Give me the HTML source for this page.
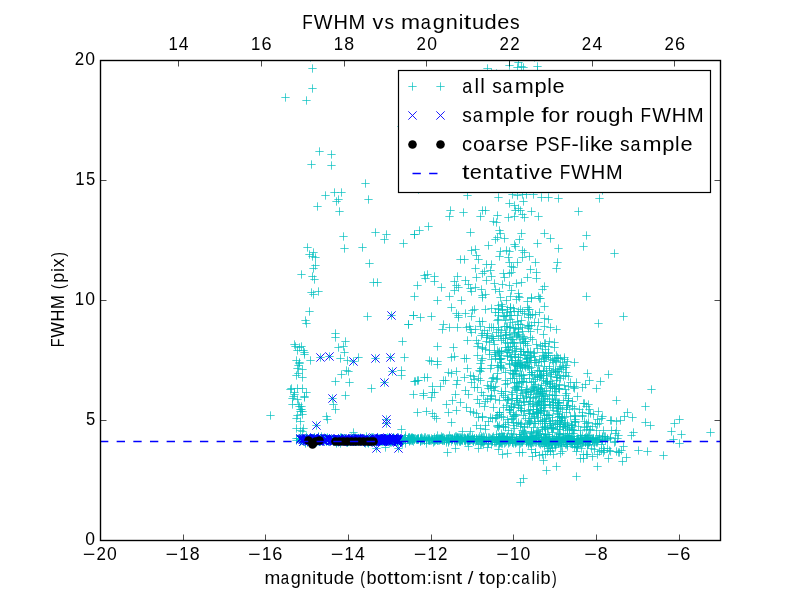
<!DOCTYPE html><html><head><meta charset="utf-8"><style>html,body{margin:0;padding:0;background:#fff;overflow:hidden;}svg{display:block;will-change:transform;}text{font-family:"Liberation Sans",sans-serif;fill:#000;white-space:pre;}</style></head><body>
<svg width="800" height="600" viewBox="0 0 800 600">
<rect x="0" y="0" width="800" height="600" fill="#fff"/>
<defs><clipPath id="ax"><rect x="100" y="60" width="620" height="480"/></clipPath>
<path id="p" d="M-4.17 0H4.17M0 -4.17V4.17" />
<path id="x" d="M-4.17 -4.17L4.17 4.17M-4.17 4.17L4.17 -4.17" />
</defs>
<g clip-path="url(#ax)">
<g stroke="#00bfbf" stroke-width="0.7" fill="none">
<use href="#p" x="312.5" y="68.5"/>
<use href="#p" x="312.5" y="88.5"/>
<use href="#p" x="285.5" y="97.5"/>
<use href="#p" x="306.5" y="100.5"/>
<use href="#p" x="319.5" y="151.5"/>
<use href="#p" x="331.5" y="154.5"/>
<use href="#p" x="311.5" y="164.5"/>
<use href="#p" x="331.5" y="165.5"/>
<use href="#p" x="310.5" y="57.5"/>
<use href="#p" x="401.5" y="126.5"/>
<use href="#p" x="365.5" y="183.5"/>
<use href="#p" x="325.5" y="195.5"/>
<use href="#p" x="334.5" y="192.5"/>
<use href="#p" x="341.5" y="192.5"/>
<use href="#p" x="338.5" y="199.5"/>
<use href="#p" x="336.5" y="201.5"/>
<use href="#p" x="368.5" y="199.5"/>
<use href="#p" x="317.5" y="206.5"/>
<use href="#p" x="339.5" y="211.5"/>
<use href="#p" x="375.5" y="232.5"/>
<use href="#p" x="386.5" y="234.5"/>
<use href="#p" x="384.5" y="239.5"/>
<use href="#p" x="343.5" y="236.5"/>
<use href="#p" x="344.5" y="248.5"/>
<use href="#p" x="362.5" y="247.5"/>
<use href="#p" x="403.5" y="243.5"/>
<use href="#p" x="414.5" y="234.5"/>
<use href="#p" x="307.5" y="247.5"/>
<use href="#p" x="313.5" y="252.5"/>
<use href="#p" x="309.5" y="254.5"/>
<use href="#p" x="312.5" y="256.5"/>
<use href="#p" x="315.5" y="257.5"/>
<use href="#p" x="315.5" y="265.5"/>
<use href="#p" x="313.5" y="268.5"/>
<use href="#p" x="301.5" y="274.5"/>
<use href="#p" x="312.5" y="276.5"/>
<use href="#p" x="314.5" y="279.5"/>
<use href="#p" x="369.5" y="263.5"/>
<use href="#p" x="373.5" y="282.5"/>
<use href="#p" x="377.5" y="282.5"/>
<use href="#p" x="417.5" y="285.5"/>
<use href="#p" x="414.5" y="296.5"/>
<use href="#p" x="311.5" y="292.5"/>
<use href="#p" x="318.5" y="291.5"/>
<use href="#p" x="313.5" y="294.5"/>
<use href="#p" x="309.5" y="311.5"/>
<use href="#p" x="305.5" y="320.5"/>
<use href="#p" x="306.5" y="323.5"/>
<use href="#p" x="367.5" y="316.5"/>
<use href="#p" x="391.5" y="315.5"/>
<use href="#p" x="413.5" y="315.5"/>
<use href="#p" x="408.5" y="324.5"/>
<use href="#p" x="335.5" y="333.5"/>
<use href="#p" x="335.5" y="337.5"/>
<use href="#p" x="345.5" y="341.5"/>
<use href="#p" x="338.5" y="347.5"/>
<use href="#p" x="343.5" y="346.5"/>
<use href="#p" x="344.5" y="352.5"/>
<use href="#p" x="340.5" y="358.5"/>
<use href="#p" x="347.5" y="360.5"/>
<use href="#p" x="346.5" y="370.5"/>
<use href="#p" x="348.5" y="371.5"/>
<use href="#p" x="341.5" y="374.5"/>
<use href="#p" x="358.5" y="357.5"/>
<use href="#p" x="353.5" y="361.5"/>
<use href="#p" x="402.5" y="341.5"/>
<use href="#p" x="375.5" y="358.5"/>
<use href="#p" x="390.5" y="357.5"/>
<use href="#p" x="404.5" y="357.5"/>
<use href="#p" x="392.5" y="371.5"/>
<use href="#p" x="401.5" y="370.5"/>
<use href="#p" x="401.5" y="375.5"/>
<use href="#p" x="384.5" y="382.5"/>
<use href="#p" x="371.5" y="388.5"/>
<use href="#p" x="335.5" y="381.5"/>
<use href="#p" x="349.5" y="382.5"/>
<use href="#p" x="345.5" y="395.5"/>
<use href="#p" x="332.5" y="398.5"/>
<use href="#p" x="333.5" y="404.5"/>
<use href="#p" x="335.5" y="409.5"/>
<use href="#p" x="326.5" y="416.5"/>
<use href="#p" x="414.5" y="381.5"/>
<use href="#p" x="417.5" y="380.5"/>
<use href="#p" x="413.5" y="394.5"/>
<use href="#p" x="417.5" y="412.5"/>
<use href="#p" x="270.5" y="415.5"/>
<use href="#p" x="295.5" y="346.5"/>
<use href="#p" x="301.5" y="346.5"/>
<use href="#p" x="297.5" y="350.5"/>
<use href="#p" x="304.5" y="352.5"/>
<use href="#p" x="304.5" y="354.5"/>
<use href="#p" x="310.5" y="360.5"/>
<use href="#p" x="299.5" y="362.5"/>
<use href="#p" x="298.5" y="365.5"/>
<use href="#p" x="297.5" y="368.5"/>
<use href="#p" x="298.5" y="373.5"/>
<use href="#p" x="302.5" y="377.5"/>
<use href="#p" x="291.5" y="388.5"/>
<use href="#p" x="297.5" y="388.5"/>
<use href="#p" x="302.5" y="388.5"/>
<use href="#p" x="306.5" y="392.5"/>
<use href="#p" x="294.5" y="394.5"/>
<use href="#p" x="304.5" y="396.5"/>
<use href="#p" x="297.5" y="399.5"/>
<use href="#p" x="292.5" y="404.5"/>
<use href="#p" x="301.5" y="406.5"/>
<use href="#p" x="300.5" y="409.5"/>
<use href="#p" x="302.5" y="411.5"/>
<use href="#p" x="297.5" y="415.5"/>
<use href="#p" x="320.5" y="357.5"/>
<use href="#p" x="329.5" y="356.5"/>
<use href="#p" x="487.5" y="68.5"/>
<use href="#p" x="491.5" y="72.5"/>
<use href="#p" x="496.5" y="73.5"/>
<use href="#p" x="509.5" y="65.5"/>
<use href="#p" x="518.5" y="62.5"/>
<use href="#p" x="517.5" y="67.5"/>
<use href="#p" x="521.5" y="66.5"/>
<use href="#p" x="523.5" y="67.5"/>
<use href="#p" x="537.5" y="66.5"/>
<use href="#p" x="537.5" y="70.5"/>
<use href="#p" x="534.5" y="57.5"/>
<use href="#p" x="418.5" y="189.5"/>
<use href="#p" x="467.5" y="195.5"/>
<use href="#p" x="498.5" y="197.5"/>
<use href="#p" x="512.5" y="194.5"/>
<use href="#p" x="517.5" y="195.5"/>
<use href="#p" x="522.5" y="194.5"/>
<use href="#p" x="526.5" y="194.5"/>
<use href="#p" x="533.5" y="194.5"/>
<use href="#p" x="541.5" y="197.5"/>
<use href="#p" x="548.5" y="197.5"/>
<use href="#p" x="558.5" y="198.5"/>
<use href="#p" x="509.5" y="203.5"/>
<use href="#p" x="514.5" y="205.5"/>
<use href="#p" x="523.5" y="201.5"/>
<use href="#p" x="518.5" y="208.5"/>
<use href="#p" x="520.5" y="210.5"/>
<use href="#p" x="515.5" y="210.5"/>
<use href="#p" x="522.5" y="214.5"/>
<use href="#p" x="524.5" y="217.5"/>
<use href="#p" x="514.5" y="216.5"/>
<use href="#p" x="508.5" y="217.5"/>
<use href="#p" x="531.5" y="211.5"/>
<use href="#p" x="538.5" y="216.5"/>
<use href="#p" x="450.5" y="210.5"/>
<use href="#p" x="449.5" y="216.5"/>
<use href="#p" x="463.5" y="212.5"/>
<use href="#p" x="482.5" y="210.5"/>
<use href="#p" x="485.5" y="210.5"/>
<use href="#p" x="480.5" y="216.5"/>
<use href="#p" x="497.5" y="215.5"/>
<use href="#p" x="493.5" y="221.5"/>
<use href="#p" x="496.5" y="222.5"/>
<use href="#p" x="428.5" y="226.5"/>
<use href="#p" x="419.5" y="230.5"/>
<use href="#p" x="414.5" y="234.5"/>
<use href="#p" x="470.5" y="232.5"/>
<use href="#p" x="499.5" y="230.5"/>
<use href="#p" x="500.5" y="233.5"/>
<use href="#p" x="504.5" y="238.5"/>
<use href="#p" x="497.5" y="237.5"/>
<use href="#p" x="495.5" y="239.5"/>
<use href="#p" x="521.5" y="233.5"/>
<use href="#p" x="519.5" y="239.5"/>
<use href="#p" x="544.5" y="233.5"/>
<use href="#p" x="550.5" y="238.5"/>
<use href="#p" x="537.5" y="243.5"/>
<use href="#p" x="558.5" y="248.5"/>
<use href="#p" x="488.5" y="245.5"/>
<use href="#p" x="514.5" y="244.5"/>
<use href="#p" x="515.5" y="246.5"/>
<use href="#p" x="471.5" y="250.5"/>
<use href="#p" x="475.5" y="249.5"/>
<use href="#p" x="476.5" y="255.5"/>
<use href="#p" x="478.5" y="259.5"/>
<use href="#p" x="460.5" y="259.5"/>
<use href="#p" x="464.5" y="259.5"/>
<use href="#p" x="500.5" y="251.5"/>
<use href="#p" x="506.5" y="250.5"/>
<use href="#p" x="509.5" y="251.5"/>
<use href="#p" x="499.5" y="256.5"/>
<use href="#p" x="508.5" y="257.5"/>
<use href="#p" x="522.5" y="250.5"/>
<use href="#p" x="524.5" y="252.5"/>
<use href="#p" x="522.5" y="257.5"/>
<use href="#p" x="529.5" y="256.5"/>
<use href="#p" x="535.5" y="262.5"/>
<use href="#p" x="557.5" y="262.5"/>
<use href="#p" x="556.5" y="268.5"/>
<use href="#p" x="475.5" y="268.5"/>
<use href="#p" x="486.5" y="264.5"/>
<use href="#p" x="491.5" y="264.5"/>
<use href="#p" x="484.5" y="271.5"/>
<use href="#p" x="490.5" y="270.5"/>
<use href="#p" x="482.5" y="273.5"/>
<use href="#p" x="491.5" y="276.5"/>
<use href="#p" x="509.5" y="262.5"/>
<use href="#p" x="511.5" y="266.5"/>
<use href="#p" x="513.5" y="267.5"/>
<use href="#p" x="511.5" y="272.5"/>
<use href="#p" x="509.5" y="273.5"/>
<use href="#p" x="517.5" y="262.5"/>
<use href="#p" x="503.5" y="273.5"/>
<use href="#p" x="504.5" y="277.5"/>
<use href="#p" x="530.5" y="269.5"/>
<use href="#p" x="536.5" y="272.5"/>
<use href="#p" x="527.5" y="277.5"/>
<use href="#p" x="536.5" y="278.5"/>
<use href="#p" x="521.5" y="282.5"/>
<use href="#p" x="544.5" y="286.5"/>
<use href="#p" x="542.5" y="289.5"/>
<use href="#p" x="424.5" y="275.5"/>
<use href="#p" x="427.5" y="274.5"/>
<use href="#p" x="425.5" y="278.5"/>
<use href="#p" x="434.5" y="276.5"/>
<use href="#p" x="434.5" y="281.5"/>
<use href="#p" x="441.5" y="287.5"/>
<use href="#p" x="457.5" y="276.5"/>
<use href="#p" x="454.5" y="281.5"/>
<use href="#p" x="456.5" y="285.5"/>
<use href="#p" x="458.5" y="287.5"/>
<use href="#p" x="454.5" y="290.5"/>
<use href="#p" x="465.5" y="280.5"/>
<use href="#p" x="476.5" y="277.5"/>
<use href="#p" x="468.5" y="284.5"/>
<use href="#p" x="470.5" y="288.5"/>
<use href="#p" x="475.5" y="287.5"/>
<use href="#p" x="471.5" y="291.5"/>
<use href="#p" x="481.5" y="289.5"/>
<use href="#p" x="482.5" y="295.5"/>
<use href="#p" x="485.5" y="294.5"/>
<use href="#p" x="449.5" y="296.5"/>
<use href="#p" x="486.5" y="280.5"/>
<use href="#p" x="494.5" y="283.5"/>
<use href="#p" x="495.5" y="289.5"/>
<use href="#p" x="499.5" y="291.5"/>
<use href="#p" x="502.5" y="284.5"/>
<use href="#p" x="509.5" y="285.5"/>
<use href="#p" x="511.5" y="290.5"/>
<use href="#p" x="516.5" y="283.5"/>
<use href="#p" x="518.5" y="293.5"/>
<use href="#p" x="519.5" y="297.5"/>
<use href="#p" x="510.5" y="296.5"/>
<use href="#p" x="500.5" y="297.5"/>
<use href="#p" x="531.5" y="297.5"/>
<use href="#p" x="538.5" y="296.5"/>
<use href="#p" x="540.5" y="298.5"/>
<use href="#p" x="599.5" y="198.5"/>
<use href="#p" x="602.5" y="190.5"/>
<use href="#p" x="578.5" y="211.5"/>
<use href="#p" x="586.5" y="235.5"/>
<use href="#p" x="583.5" y="246.5"/>
<use href="#p" x="614.5" y="253.5"/>
<use href="#p" x="586.5" y="296.5"/>
<use href="#p" x="437.5" y="300.5"/>
<use href="#p" x="461.5" y="300.5"/>
<use href="#p" x="451.5" y="307.5"/>
<use href="#p" x="474.5" y="309.5"/>
<use href="#p" x="472.5" y="310.5"/>
<use href="#p" x="456.5" y="313.5"/>
<use href="#p" x="458.5" y="315.5"/>
<use href="#p" x="458.5" y="317.5"/>
<use href="#p" x="465.5" y="313.5"/>
<use href="#p" x="471.5" y="316.5"/>
<use href="#p" x="413.5" y="315.5"/>
<use href="#p" x="420.5" y="317.5"/>
<use href="#p" x="431.5" y="316.5"/>
<use href="#p" x="408.5" y="324.5"/>
<use href="#p" x="443.5" y="324.5"/>
<use href="#p" x="442.5" y="329.5"/>
<use href="#p" x="449.5" y="327.5"/>
<use href="#p" x="457.5" y="327.5"/>
<use href="#p" x="466.5" y="327.5"/>
<use href="#p" x="469.5" y="326.5"/>
<use href="#p" x="470.5" y="329.5"/>
<use href="#p" x="475.5" y="329.5"/>
<use href="#p" x="471.5" y="332.5"/>
<use href="#p" x="479.5" y="321.5"/>
<use href="#p" x="467.5" y="340.5"/>
<use href="#p" x="476.5" y="340.5"/>
<use href="#p" x="477.5" y="346.5"/>
<use href="#p" x="478.5" y="343.5"/>
<use href="#p" x="437.5" y="346.5"/>
<use href="#p" x="453.5" y="347.5"/>
<use href="#p" x="451.5" y="357.5"/>
<use href="#p" x="454.5" y="356.5"/>
<use href="#p" x="464.5" y="358.5"/>
<use href="#p" x="466.5" y="358.5"/>
<use href="#p" x="477.5" y="355.5"/>
<use href="#p" x="429.5" y="360.5"/>
<use href="#p" x="431.5" y="361.5"/>
<use href="#p" x="437.5" y="361.5"/>
<use href="#p" x="437.5" y="364.5"/>
<use href="#p" x="467.5" y="368.5"/>
<use href="#p" x="448.5" y="372.5"/>
<use href="#p" x="451.5" y="373.5"/>
<use href="#p" x="456.5" y="371.5"/>
<use href="#p" x="464.5" y="377.5"/>
<use href="#p" x="470.5" y="375.5"/>
<use href="#p" x="473.5" y="376.5"/>
<use href="#p" x="474.5" y="379.5"/>
<use href="#p" x="478.5" y="378.5"/>
<use href="#p" x="471.5" y="382.5"/>
<use href="#p" x="474.5" y="387.5"/>
<use href="#p" x="477.5" y="387.5"/>
<use href="#p" x="479.5" y="370.5"/>
<use href="#p" x="415.5" y="381.5"/>
<use href="#p" x="418.5" y="380.5"/>
<use href="#p" x="424.5" y="377.5"/>
<use href="#p" x="427.5" y="377.5"/>
<use href="#p" x="443.5" y="380.5"/>
<use href="#p" x="445.5" y="380.5"/>
<use href="#p" x="457.5" y="380.5"/>
<use href="#p" x="456.5" y="384.5"/>
<use href="#p" x="432.5" y="386.5"/>
<use href="#p" x="440.5" y="386.5"/>
<use href="#p" x="423.5" y="393.5"/>
<use href="#p" x="423.5" y="395.5"/>
<use href="#p" x="432.5" y="392.5"/>
<use href="#p" x="434.5" y="392.5"/>
<use href="#p" x="431.5" y="397.5"/>
<use href="#p" x="455.5" y="394.5"/>
<use href="#p" x="465.5" y="390.5"/>
<use href="#p" x="468.5" y="394.5"/>
<use href="#p" x="452.5" y="400.5"/>
<use href="#p" x="446.5" y="404.5"/>
<use href="#p" x="460.5" y="402.5"/>
<use href="#p" x="466.5" y="407.5"/>
<use href="#p" x="456.5" y="410.5"/>
<use href="#p" x="448.5" y="412.5"/>
<use href="#p" x="426.5" y="411.5"/>
<use href="#p" x="432.5" y="413.5"/>
<use href="#p" x="470.5" y="411.5"/>
<use href="#p" x="473.5" y="412.5"/>
<use href="#p" x="476.5" y="413.5"/>
<use href="#p" x="477.5" y="399.5"/>
<use href="#p" x="479.5" y="403.5"/>
<use href="#p" x="434.5" y="416.5"/>
<use href="#p" x="436.5" y="418.5"/>
<use href="#p" x="451.5" y="422.5"/>
<use href="#p" x="478.5" y="417.5"/>
<use href="#p" x="401.5" y="429.5"/>
<use href="#p" x="476.5" y="425.5"/>
<use href="#p" x="462.5" y="431.5"/>
<use href="#p" x="470.5" y="431.5"/>
<use href="#p" x="447.5" y="452.5"/>
<use href="#p" x="455.5" y="448.5"/>
<use href="#p" x="478.5" y="448.5"/>
<use href="#p" x="468.5" y="446.5"/>
<use href="#p" x="482.5" y="297.5"/>
<use href="#p" x="506.5" y="300.5"/>
<use href="#p" x="516.5" y="299.5"/>
<use href="#p" x="518.5" y="296.5"/>
<use href="#p" x="531.5" y="298.5"/>
<use href="#p" x="539.5" y="298.5"/>
<use href="#p" x="527.5" y="301.5"/>
<use href="#p" x="501.5" y="304.5"/>
<use href="#p" x="498.5" y="305.5"/>
<use href="#p" x="544.5" y="306.5"/>
<use href="#p" x="485.5" y="309.5"/>
<use href="#p" x="491.5" y="308.5"/>
<use href="#p" x="498.5" y="308.5"/>
<use href="#p" x="498.5" y="312.5"/>
<use href="#p" x="498.5" y="315.5"/>
<use href="#p" x="502.5" y="306.5"/>
<use href="#p" x="507.5" y="309.5"/>
<use href="#p" x="510.5" y="311.5"/>
<use href="#p" x="514.5" y="311.5"/>
<use href="#p" x="518.5" y="311.5"/>
<use href="#p" x="522.5" y="311.5"/>
<use href="#p" x="528.5" y="309.5"/>
<use href="#p" x="528.5" y="314.5"/>
<use href="#p" x="530.5" y="315.5"/>
<use href="#p" x="539.5" y="312.5"/>
<use href="#p" x="524.5" y="313.5"/>
<use href="#p" x="504.5" y="316.5"/>
<use href="#p" x="517.5" y="315.5"/>
<use href="#p" x="544.5" y="318.5"/>
<use href="#p" x="548.5" y="319.5"/>
<use href="#p" x="482.5" y="321.5"/>
<use href="#p" x="505.5" y="320.5"/>
<use href="#p" x="510.5" y="319.5"/>
<use href="#p" x="521.5" y="320.5"/>
<use href="#p" x="534.5" y="322.5"/>
<use href="#p" x="538.5" y="322.5"/>
<use href="#p" x="489.5" y="327.5"/>
<use href="#p" x="493.5" y="327.5"/>
<use href="#p" x="501.5" y="330.5"/>
<use href="#p" x="506.5" y="326.5"/>
<use href="#p" x="509.5" y="327.5"/>
<use href="#p" x="513.5" y="328.5"/>
<use href="#p" x="518.5" y="328.5"/>
<use href="#p" x="522.5" y="327.5"/>
<use href="#p" x="528.5" y="326.5"/>
<use href="#p" x="531.5" y="325.5"/>
<use href="#p" x="537.5" y="329.5"/>
<use href="#p" x="544.5" y="326.5"/>
<use href="#p" x="550.5" y="327.5"/>
<use href="#p" x="556.5" y="329.5"/>
<use href="#p" x="482.5" y="333.5"/>
<use href="#p" x="487.5" y="333.5"/>
<use href="#p" x="496.5" y="332.5"/>
<use href="#p" x="498.5" y="336.5"/>
<use href="#p" x="505.5" y="332.5"/>
<use href="#p" x="509.5" y="334.5"/>
<use href="#p" x="514.5" y="332.5"/>
<use href="#p" x="518.5" y="334.5"/>
<use href="#p" x="522.5" y="331.5"/>
<use href="#p" x="510.5" y="337.5"/>
<use href="#p" x="524.5" y="338.5"/>
<use href="#p" x="530.5" y="337.5"/>
<use href="#p" x="543.5" y="334.5"/>
<use href="#p" x="486.5" y="341.5"/>
<use href="#p" x="489.5" y="342.5"/>
<use href="#p" x="494.5" y="344.5"/>
<use href="#p" x="482.5" y="347.5"/>
<use href="#p" x="485.5" y="349.5"/>
<use href="#p" x="505.5" y="347.5"/>
<use href="#p" x="507.5" y="343.5"/>
<use href="#p" x="513.5" y="342.5"/>
<use href="#p" x="520.5" y="342.5"/>
<use href="#p" x="525.5" y="341.5"/>
<use href="#p" x="527.5" y="345.5"/>
<use href="#p" x="536.5" y="344.5"/>
<use href="#p" x="540.5" y="345.5"/>
<use href="#p" x="545.5" y="343.5"/>
<use href="#p" x="554.5" y="342.5"/>
<use href="#p" x="554.5" y="347.5"/>
<use href="#p" x="545.5" y="349.5"/>
<use href="#p" x="501.5" y="351.5"/>
<use href="#p" x="507.5" y="352.5"/>
<use href="#p" x="515.5" y="351.5"/>
<use href="#p" x="521.5" y="351.5"/>
<use href="#p" x="527.5" y="352.5"/>
<use href="#p" x="534.5" y="352.5"/>
<use href="#p" x="542.5" y="352.5"/>
<use href="#p" x="548.5" y="352.5"/>
<use href="#p" x="495.5" y="354.5"/>
<use href="#p" x="512.5" y="339.5"/>
<use href="#p" x="516.5" y="336.5"/>
<use href="#p" x="520.5" y="324.5"/>
<use href="#p" x="512.5" y="322.5"/>
<use href="#p" x="503.5" y="338.5"/>
<use href="#p" x="493.5" y="338.5"/>
<use href="#p" x="623.5" y="316.5"/>
<use href="#p" x="598.5" y="323.5"/>
<use href="#p" x="574.5" y="362.5"/>
<use href="#p" x="587.5" y="373.5"/>
<use href="#p" x="608.5" y="374.5"/>
<use href="#p" x="600.5" y="381.5"/>
<use href="#p" x="596.5" y="388.5"/>
<use href="#p" x="651.5" y="389.5"/>
<use href="#p" x="616.5" y="400.5"/>
<use href="#p" x="645.5" y="406.5"/>
<use href="#p" x="627.5" y="412.5"/>
<use href="#p" x="632.5" y="417.5"/>
<use href="#p" x="645.5" y="422.5"/>
<use href="#p" x="650.5" y="425.5"/>
<use href="#p" x="610.5" y="420.5"/>
<use href="#p" x="598.5" y="411.5"/>
<use href="#p" x="549.5" y="341.5"/>
<use href="#p" x="544.5" y="343.5"/>
<use href="#p" x="542.5" y="346.5"/>
<use href="#p" x="548.5" y="355.5"/>
<use href="#p" x="550.5" y="359.5"/>
<use href="#p" x="560.5" y="366.5"/>
<use href="#p" x="561.5" y="369.5"/>
<use href="#p" x="566.5" y="372.5"/>
<use href="#p" x="563.5" y="376.5"/>
<use href="#p" x="555.5" y="369.5"/>
<use href="#p" x="589.5" y="380.5"/>
<use href="#p" x="585.5" y="384.5"/>
<use href="#p" x="576.5" y="382.5"/>
<use href="#p" x="570.5" y="382.5"/>
<use href="#p" x="574.5" y="388.5"/>
<use href="#p" x="582.5" y="387.5"/>
<use href="#p" x="577.5" y="396.5"/>
<use href="#p" x="566.5" y="393.5"/>
<use href="#p" x="586.5" y="406.5"/>
<use href="#p" x="583.5" y="403.5"/>
<use href="#p" x="593.5" y="414.5"/>
<use href="#p" x="602.5" y="416.5"/>
<use href="#p" x="616.5" y="421.5"/>
<use href="#p" x="595.5" y="423.5"/>
<use href="#p" x="624.5" y="416.5"/>
<use href="#p" x="620.5" y="420.5"/>
<use href="#p" x="616.5" y="430.5"/>
<use href="#p" x="615.5" y="433.5"/>
<use href="#p" x="633.5" y="432.5"/>
<use href="#p" x="631.5" y="435.5"/>
<use href="#p" x="611.5" y="430.5"/>
<use href="#p" x="610.5" y="437.5"/>
<use href="#p" x="623.5" y="446.5"/>
<use href="#p" x="621.5" y="450.5"/>
<use href="#p" x="638.5" y="450.5"/>
<use href="#p" x="647.5" y="451.5"/>
<use href="#p" x="592.5" y="456.5"/>
<use href="#p" x="580.5" y="458.5"/>
<use href="#p" x="576.5" y="476.5"/>
<use href="#p" x="611.5" y="420.5"/>
<use href="#p" x="610.5" y="451.5"/>
<use href="#p" x="601.5" y="418.5"/>
<use href="#p" x="603.5" y="430.5"/>
<use href="#p" x="602.5" y="436.5"/>
<use href="#p" x="601.5" y="450.5"/>
<use href="#p" x="607.5" y="448.5"/>
<use href="#p" x="591.5" y="448.5"/>
<use href="#p" x="520.5" y="482.5"/>
<use href="#p" x="523.5" y="478.5"/>
<use href="#p" x="546.5" y="470.5"/>
<use href="#p" x="556.5" y="466.5"/>
<use href="#p" x="532.5" y="456.5"/>
<use href="#p" x="543.5" y="460.5"/>
<use href="#p" x="679.5" y="419.5"/>
<use href="#p" x="674.5" y="423.5"/>
<use href="#p" x="671.5" y="431.5"/>
<use href="#p" x="681.5" y="434.5"/>
<use href="#p" x="710.5" y="432.5"/>
<use href="#p" x="673.5" y="439.5"/>
<use href="#p" x="679.5" y="443.5"/>
<use href="#p" x="610.5" y="438.5"/>
<use href="#p" x="615.5" y="441.5"/>
<use href="#p" x="619.5" y="452.5"/>
<use href="#p" x="603.5" y="448.5"/>
<use href="#p" x="663.5" y="455.5"/>
<use href="#p" x="539.5" y="455.5"/>
<use href="#p" x="545.5" y="454.5"/>
<use href="#p" x="583.5" y="458.5"/>
<use href="#p" x="498.5" y="449.5"/>
<use href="#p" x="487.5" y="447.5"/>
<use href="#p" x="376.5" y="448.5"/>
<use href="#p" x="385.5" y="447.5"/>
<use href="#p" x="398.5" y="448.5"/>
<use href="#p" x="296.5" y="418.5"/>
<use href="#p" x="300.5" y="421.5"/>
<use href="#p" x="296.5" y="428.5"/>
<use href="#p" x="303.5" y="428.5"/>
<use href="#p" x="300.5" y="430.5"/>
<use href="#p" x="302.5" y="431.5"/>
<use href="#p" x="302.5" y="414.5"/>
<use href="#p" x="316.5" y="425.5"/>
<use href="#p" x="327.5" y="419.5"/>
<use href="#p" x="386.5" y="419.5"/>
<use href="#p" x="386.5" y="423.5"/>
<use href="#p" x="353.5" y="432.5"/>
<use href="#p" x="293.5" y="396.5"/>
<use href="#p" x="304.5" y="397.5"/>
<use href="#p" x="294.5" y="344.5"/>
<use href="#p" x="299.5" y="347.5"/>
<use href="#p" x="303.5" y="350.5"/>
<use href="#p" x="296.5" y="360.5"/>
<use href="#p" x="299.5" y="363.5"/>
<use href="#p" x="302.5" y="369.5"/>
<use href="#p" x="296.5" y="375.5"/>
<use href="#p" x="299.5" y="406.5"/>
<use href="#p" x="301.5" y="409.5"/>
<use href="#p" x="300.5" y="411.5"/>
<use href="#p" x="298.5" y="404.5"/>
<use href="#p" x="294.5" y="392.5"/>
<use href="#p" x="290.5" y="389.5"/>
<use href="#p" x="292.5" y="398.5"/>
<use href="#p" x="626.5" y="457.5"/>
<use href="#p" x="622.5" y="461.5"/>
<use href="#p" x="608.5" y="458.5"/>
<use href="#p" x="597.5" y="466.5"/>
<use href="#p" x="480.5" y="363.5"/>
<use href="#p" x="482.5" y="358.5"/>
<use href="#p" x="481.5" y="360.5"/>
<use href="#p" x="491.5" y="359.5"/>
<use href="#p" x="495.5" y="356.5"/>
<use href="#p" x="495.5" y="358.5"/>
<use href="#p" x="499.5" y="355.5"/>
<use href="#p" x="499.5" y="359.5"/>
<use href="#p" x="501.5" y="362.5"/>
<use href="#p" x="501.5" y="358.5"/>
<use href="#p" x="500.5" y="358.5"/>
<use href="#p" x="509.5" y="364.5"/>
<use href="#p" x="507.5" y="355.5"/>
<use href="#p" x="509.5" y="363.5"/>
<use href="#p" x="507.5" y="356.5"/>
<use href="#p" x="500.5" y="359.5"/>
<use href="#p" x="515.5" y="362.5"/>
<use href="#p" x="512.5" y="360.5"/>
<use href="#p" x="517.5" y="363.5"/>
<use href="#p" x="518.5" y="357.5"/>
<use href="#p" x="518.5" y="357.5"/>
<use href="#p" x="518.5" y="360.5"/>
<use href="#p" x="511.5" y="360.5"/>
<use href="#p" x="515.5" y="364.5"/>
<use href="#p" x="510.5" y="356.5"/>
<use href="#p" x="519.5" y="363.5"/>
<use href="#p" x="511.5" y="357.5"/>
<use href="#p" x="515.5" y="356.5"/>
<use href="#p" x="520.5" y="362.5"/>
<use href="#p" x="520.5" y="364.5"/>
<use href="#p" x="529.5" y="362.5"/>
<use href="#p" x="527.5" y="358.5"/>
<use href="#p" x="526.5" y="362.5"/>
<use href="#p" x="524.5" y="355.5"/>
<use href="#p" x="526.5" y="358.5"/>
<use href="#p" x="526.5" y="359.5"/>
<use href="#p" x="529.5" y="357.5"/>
<use href="#p" x="527.5" y="361.5"/>
<use href="#p" x="525.5" y="355.5"/>
<use href="#p" x="521.5" y="364.5"/>
<use href="#p" x="531.5" y="357.5"/>
<use href="#p" x="535.5" y="360.5"/>
<use href="#p" x="530.5" y="355.5"/>
<use href="#p" x="534.5" y="356.5"/>
<use href="#p" x="536.5" y="362.5"/>
<use href="#p" x="530.5" y="360.5"/>
<use href="#p" x="534.5" y="362.5"/>
<use href="#p" x="539.5" y="359.5"/>
<use href="#p" x="548.5" y="355.5"/>
<use href="#p" x="543.5" y="358.5"/>
<use href="#p" x="541.5" y="361.5"/>
<use href="#p" x="545.5" y="357.5"/>
<use href="#p" x="544.5" y="361.5"/>
<use href="#p" x="543.5" y="355.5"/>
<use href="#p" x="544.5" y="356.5"/>
<use href="#p" x="546.5" y="357.5"/>
<use href="#p" x="558.5" y="358.5"/>
<use href="#p" x="552.5" y="360.5"/>
<use href="#p" x="556.5" y="361.5"/>
<use href="#p" x="557.5" y="357.5"/>
<use href="#p" x="554.5" y="358.5"/>
<use href="#p" x="555.5" y="360.5"/>
<use href="#p" x="556.5" y="355.5"/>
<use href="#p" x="553.5" y="362.5"/>
<use href="#p" x="567.5" y="361.5"/>
<use href="#p" x="564.5" y="359.5"/>
<use href="#p" x="562.5" y="362.5"/>
<use href="#p" x="564.5" y="357.5"/>
<use href="#p" x="560.5" y="358.5"/>
<use href="#p" x="480.5" y="371.5"/>
<use href="#p" x="481.5" y="368.5"/>
<use href="#p" x="481.5" y="368.5"/>
<use href="#p" x="497.5" y="373.5"/>
<use href="#p" x="490.5" y="368.5"/>
<use href="#p" x="497.5" y="365.5"/>
<use href="#p" x="491.5" y="365.5"/>
<use href="#p" x="498.5" y="367.5"/>
<use href="#p" x="500.5" y="366.5"/>
<use href="#p" x="505.5" y="372.5"/>
<use href="#p" x="503.5" y="368.5"/>
<use href="#p" x="500.5" y="365.5"/>
<use href="#p" x="501.5" y="367.5"/>
<use href="#p" x="513.5" y="374.5"/>
<use href="#p" x="512.5" y="373.5"/>
<use href="#p" x="510.5" y="370.5"/>
<use href="#p" x="515.5" y="371.5"/>
<use href="#p" x="514.5" y="370.5"/>
<use href="#p" x="517.5" y="366.5"/>
<use href="#p" x="515.5" y="370.5"/>
<use href="#p" x="517.5" y="366.5"/>
<use href="#p" x="514.5" y="365.5"/>
<use href="#p" x="516.5" y="373.5"/>
<use href="#p" x="513.5" y="373.5"/>
<use href="#p" x="516.5" y="365.5"/>
<use href="#p" x="520.5" y="368.5"/>
<use href="#p" x="528.5" y="366.5"/>
<use href="#p" x="525.5" y="365.5"/>
<use href="#p" x="521.5" y="374.5"/>
<use href="#p" x="520.5" y="366.5"/>
<use href="#p" x="529.5" y="368.5"/>
<use href="#p" x="522.5" y="365.5"/>
<use href="#p" x="524.5" y="365.5"/>
<use href="#p" x="522.5" y="367.5"/>
<use href="#p" x="527.5" y="366.5"/>
<use href="#p" x="525.5" y="367.5"/>
<use href="#p" x="529.5" y="374.5"/>
<use href="#p" x="539.5" y="370.5"/>
<use href="#p" x="539.5" y="371.5"/>
<use href="#p" x="531.5" y="372.5"/>
<use href="#p" x="538.5" y="365.5"/>
<use href="#p" x="531.5" y="372.5"/>
<use href="#p" x="537.5" y="370.5"/>
<use href="#p" x="531.5" y="367.5"/>
<use href="#p" x="532.5" y="374.5"/>
<use href="#p" x="543.5" y="371.5"/>
<use href="#p" x="546.5" y="370.5"/>
<use href="#p" x="546.5" y="373.5"/>
<use href="#p" x="549.5" y="366.5"/>
<use href="#p" x="540.5" y="374.5"/>
<use href="#p" x="549.5" y="368.5"/>
<use href="#p" x="543.5" y="371.5"/>
<use href="#p" x="544.5" y="366.5"/>
<use href="#p" x="553.5" y="370.5"/>
<use href="#p" x="551.5" y="372.5"/>
<use href="#p" x="559.5" y="368.5"/>
<use href="#p" x="555.5" y="371.5"/>
<use href="#p" x="557.5" y="371.5"/>
<use href="#p" x="555.5" y="372.5"/>
<use href="#p" x="550.5" y="374.5"/>
<use href="#p" x="558.5" y="371.5"/>
<use href="#p" x="566.5" y="365.5"/>
<use href="#p" x="563.5" y="367.5"/>
<use href="#p" x="565.5" y="367.5"/>
<use href="#p" x="480.5" y="380.5"/>
<use href="#p" x="497.5" y="378.5"/>
<use href="#p" x="491.5" y="381.5"/>
<use href="#p" x="493.5" y="377.5"/>
<use href="#p" x="492.5" y="378.5"/>
<use href="#p" x="496.5" y="379.5"/>
<use href="#p" x="507.5" y="383.5"/>
<use href="#p" x="505.5" y="384.5"/>
<use href="#p" x="505.5" y="380.5"/>
<use href="#p" x="519.5" y="382.5"/>
<use href="#p" x="519.5" y="376.5"/>
<use href="#p" x="514.5" y="382.5"/>
<use href="#p" x="517.5" y="383.5"/>
<use href="#p" x="512.5" y="378.5"/>
<use href="#p" x="514.5" y="378.5"/>
<use href="#p" x="510.5" y="378.5"/>
<use href="#p" x="516.5" y="382.5"/>
<use href="#p" x="526.5" y="382.5"/>
<use href="#p" x="521.5" y="375.5"/>
<use href="#p" x="521.5" y="381.5"/>
<use href="#p" x="529.5" y="378.5"/>
<use href="#p" x="523.5" y="381.5"/>
<use href="#p" x="523.5" y="375.5"/>
<use href="#p" x="522.5" y="381.5"/>
<use href="#p" x="524.5" y="378.5"/>
<use href="#p" x="531.5" y="382.5"/>
<use href="#p" x="533.5" y="381.5"/>
<use href="#p" x="535.5" y="384.5"/>
<use href="#p" x="537.5" y="376.5"/>
<use href="#p" x="534.5" y="375.5"/>
<use href="#p" x="537.5" y="377.5"/>
<use href="#p" x="539.5" y="377.5"/>
<use href="#p" x="535.5" y="379.5"/>
<use href="#p" x="545.5" y="383.5"/>
<use href="#p" x="543.5" y="375.5"/>
<use href="#p" x="541.5" y="375.5"/>
<use href="#p" x="547.5" y="381.5"/>
<use href="#p" x="547.5" y="382.5"/>
<use href="#p" x="541.5" y="375.5"/>
<use href="#p" x="546.5" y="375.5"/>
<use href="#p" x="543.5" y="380.5"/>
<use href="#p" x="546.5" y="381.5"/>
<use href="#p" x="549.5" y="384.5"/>
<use href="#p" x="543.5" y="378.5"/>
<use href="#p" x="540.5" y="376.5"/>
<use href="#p" x="556.5" y="377.5"/>
<use href="#p" x="550.5" y="381.5"/>
<use href="#p" x="556.5" y="380.5"/>
<use href="#p" x="551.5" y="376.5"/>
<use href="#p" x="552.5" y="383.5"/>
<use href="#p" x="559.5" y="375.5"/>
<use href="#p" x="559.5" y="384.5"/>
<use href="#p" x="557.5" y="377.5"/>
<use href="#p" x="568.5" y="376.5"/>
<use href="#p" x="560.5" y="378.5"/>
<use href="#p" x="565.5" y="375.5"/>
<use href="#p" x="481.5" y="392.5"/>
<use href="#p" x="487.5" y="385.5"/>
<use href="#p" x="488.5" y="388.5"/>
<use href="#p" x="493.5" y="387.5"/>
<use href="#p" x="491.5" y="388.5"/>
<use href="#p" x="490.5" y="386.5"/>
<use href="#p" x="494.5" y="390.5"/>
<use href="#p" x="495.5" y="386.5"/>
<use href="#p" x="501.5" y="393.5"/>
<use href="#p" x="501.5" y="391.5"/>
<use href="#p" x="505.5" y="391.5"/>
<use href="#p" x="512.5" y="392.5"/>
<use href="#p" x="515.5" y="388.5"/>
<use href="#p" x="514.5" y="387.5"/>
<use href="#p" x="511.5" y="394.5"/>
<use href="#p" x="516.5" y="386.5"/>
<use href="#p" x="518.5" y="386.5"/>
<use href="#p" x="516.5" y="390.5"/>
<use href="#p" x="517.5" y="389.5"/>
<use href="#p" x="527.5" y="389.5"/>
<use href="#p" x="521.5" y="387.5"/>
<use href="#p" x="521.5" y="390.5"/>
<use href="#p" x="528.5" y="392.5"/>
<use href="#p" x="526.5" y="389.5"/>
<use href="#p" x="522.5" y="393.5"/>
<use href="#p" x="526.5" y="391.5"/>
<use href="#p" x="525.5" y="392.5"/>
<use href="#p" x="532.5" y="388.5"/>
<use href="#p" x="533.5" y="387.5"/>
<use href="#p" x="538.5" y="392.5"/>
<use href="#p" x="536.5" y="389.5"/>
<use href="#p" x="534.5" y="386.5"/>
<use href="#p" x="534.5" y="390.5"/>
<use href="#p" x="533.5" y="390.5"/>
<use href="#p" x="539.5" y="394.5"/>
<use href="#p" x="530.5" y="394.5"/>
<use href="#p" x="537.5" y="393.5"/>
<use href="#p" x="538.5" y="387.5"/>
<use href="#p" x="531.5" y="391.5"/>
<use href="#p" x="541.5" y="385.5"/>
<use href="#p" x="549.5" y="394.5"/>
<use href="#p" x="542.5" y="393.5"/>
<use href="#p" x="542.5" y="393.5"/>
<use href="#p" x="540.5" y="391.5"/>
<use href="#p" x="542.5" y="391.5"/>
<use href="#p" x="540.5" y="391.5"/>
<use href="#p" x="540.5" y="389.5"/>
<use href="#p" x="540.5" y="388.5"/>
<use href="#p" x="541.5" y="388.5"/>
<use href="#p" x="544.5" y="391.5"/>
<use href="#p" x="546.5" y="390.5"/>
<use href="#p" x="554.5" y="386.5"/>
<use href="#p" x="556.5" y="388.5"/>
<use href="#p" x="559.5" y="388.5"/>
<use href="#p" x="550.5" y="388.5"/>
<use href="#p" x="559.5" y="389.5"/>
<use href="#p" x="558.5" y="388.5"/>
<use href="#p" x="556.5" y="385.5"/>
<use href="#p" x="552.5" y="386.5"/>
<use href="#p" x="554.5" y="388.5"/>
<use href="#p" x="555.5" y="391.5"/>
<use href="#p" x="552.5" y="387.5"/>
<use href="#p" x="550.5" y="386.5"/>
<use href="#p" x="568.5" y="386.5"/>
<use href="#p" x="564.5" y="385.5"/>
<use href="#p" x="565.5" y="389.5"/>
<use href="#p" x="573.5" y="387.5"/>
<use href="#p" x="574.5" y="386.5"/>
<use href="#p" x="483.5" y="395.5"/>
<use href="#p" x="487.5" y="399.5"/>
<use href="#p" x="485.5" y="401.5"/>
<use href="#p" x="495.5" y="399.5"/>
<use href="#p" x="491.5" y="395.5"/>
<use href="#p" x="491.5" y="396.5"/>
<use href="#p" x="499.5" y="400.5"/>
<use href="#p" x="490.5" y="398.5"/>
<use href="#p" x="508.5" y="399.5"/>
<use href="#p" x="505.5" y="397.5"/>
<use href="#p" x="503.5" y="395.5"/>
<use href="#p" x="507.5" y="399.5"/>
<use href="#p" x="507.5" y="400.5"/>
<use href="#p" x="512.5" y="398.5"/>
<use href="#p" x="517.5" y="398.5"/>
<use href="#p" x="519.5" y="402.5"/>
<use href="#p" x="516.5" y="400.5"/>
<use href="#p" x="516.5" y="398.5"/>
<use href="#p" x="511.5" y="403.5"/>
<use href="#p" x="514.5" y="404.5"/>
<use href="#p" x="517.5" y="400.5"/>
<use href="#p" x="526.5" y="397.5"/>
<use href="#p" x="523.5" y="398.5"/>
<use href="#p" x="528.5" y="404.5"/>
<use href="#p" x="520.5" y="395.5"/>
<use href="#p" x="523.5" y="401.5"/>
<use href="#p" x="524.5" y="402.5"/>
<use href="#p" x="529.5" y="401.5"/>
<use href="#p" x="526.5" y="396.5"/>
<use href="#p" x="536.5" y="396.5"/>
<use href="#p" x="530.5" y="401.5"/>
<use href="#p" x="539.5" y="401.5"/>
<use href="#p" x="532.5" y="403.5"/>
<use href="#p" x="533.5" y="398.5"/>
<use href="#p" x="538.5" y="402.5"/>
<use href="#p" x="539.5" y="403.5"/>
<use href="#p" x="530.5" y="397.5"/>
<use href="#p" x="535.5" y="397.5"/>
<use href="#p" x="538.5" y="402.5"/>
<use href="#p" x="537.5" y="404.5"/>
<use href="#p" x="537.5" y="404.5"/>
<use href="#p" x="541.5" y="400.5"/>
<use href="#p" x="549.5" y="401.5"/>
<use href="#p" x="543.5" y="395.5"/>
<use href="#p" x="541.5" y="396.5"/>
<use href="#p" x="547.5" y="398.5"/>
<use href="#p" x="544.5" y="404.5"/>
<use href="#p" x="543.5" y="401.5"/>
<use href="#p" x="543.5" y="398.5"/>
<use href="#p" x="544.5" y="399.5"/>
<use href="#p" x="541.5" y="401.5"/>
<use href="#p" x="545.5" y="396.5"/>
<use href="#p" x="549.5" y="404.5"/>
<use href="#p" x="553.5" y="402.5"/>
<use href="#p" x="555.5" y="400.5"/>
<use href="#p" x="557.5" y="402.5"/>
<use href="#p" x="552.5" y="399.5"/>
<use href="#p" x="558.5" y="403.5"/>
<use href="#p" x="558.5" y="402.5"/>
<use href="#p" x="556.5" y="395.5"/>
<use href="#p" x="553.5" y="402.5"/>
<use href="#p" x="552.5" y="395.5"/>
<use href="#p" x="555.5" y="402.5"/>
<use href="#p" x="559.5" y="402.5"/>
<use href="#p" x="554.5" y="395.5"/>
<use href="#p" x="568.5" y="400.5"/>
<use href="#p" x="565.5" y="395.5"/>
<use href="#p" x="563.5" y="400.5"/>
<use href="#p" x="568.5" y="398.5"/>
<use href="#p" x="568.5" y="400.5"/>
<use href="#p" x="572.5" y="401.5"/>
<use href="#p" x="584.5" y="403.5"/>
<use href="#p" x="588.5" y="404.5"/>
<use href="#p" x="484.5" y="406.5"/>
<use href="#p" x="499.5" y="414.5"/>
<use href="#p" x="493.5" y="407.5"/>
<use href="#p" x="499.5" y="412.5"/>
<use href="#p" x="499.5" y="412.5"/>
<use href="#p" x="499.5" y="412.5"/>
<use href="#p" x="509.5" y="409.5"/>
<use href="#p" x="509.5" y="409.5"/>
<use href="#p" x="509.5" y="410.5"/>
<use href="#p" x="506.5" y="405.5"/>
<use href="#p" x="503.5" y="407.5"/>
<use href="#p" x="513.5" y="407.5"/>
<use href="#p" x="511.5" y="407.5"/>
<use href="#p" x="518.5" y="407.5"/>
<use href="#p" x="516.5" y="414.5"/>
<use href="#p" x="510.5" y="412.5"/>
<use href="#p" x="511.5" y="406.5"/>
<use href="#p" x="513.5" y="414.5"/>
<use href="#p" x="518.5" y="405.5"/>
<use href="#p" x="520.5" y="408.5"/>
<use href="#p" x="529.5" y="413.5"/>
<use href="#p" x="521.5" y="410.5"/>
<use href="#p" x="524.5" y="411.5"/>
<use href="#p" x="528.5" y="410.5"/>
<use href="#p" x="529.5" y="413.5"/>
<use href="#p" x="521.5" y="405.5"/>
<use href="#p" x="521.5" y="410.5"/>
<use href="#p" x="538.5" y="412.5"/>
<use href="#p" x="536.5" y="411.5"/>
<use href="#p" x="536.5" y="409.5"/>
<use href="#p" x="536.5" y="413.5"/>
<use href="#p" x="538.5" y="412.5"/>
<use href="#p" x="536.5" y="405.5"/>
<use href="#p" x="533.5" y="409.5"/>
<use href="#p" x="533.5" y="406.5"/>
<use href="#p" x="533.5" y="413.5"/>
<use href="#p" x="532.5" y="414.5"/>
<use href="#p" x="530.5" y="409.5"/>
<use href="#p" x="537.5" y="412.5"/>
<use href="#p" x="541.5" y="405.5"/>
<use href="#p" x="545.5" y="405.5"/>
<use href="#p" x="543.5" y="407.5"/>
<use href="#p" x="541.5" y="408.5"/>
<use href="#p" x="544.5" y="410.5"/>
<use href="#p" x="543.5" y="405.5"/>
<use href="#p" x="543.5" y="411.5"/>
<use href="#p" x="540.5" y="410.5"/>
<use href="#p" x="540.5" y="413.5"/>
<use href="#p" x="541.5" y="410.5"/>
<use href="#p" x="540.5" y="410.5"/>
<use href="#p" x="547.5" y="414.5"/>
<use href="#p" x="558.5" y="405.5"/>
<use href="#p" x="558.5" y="405.5"/>
<use href="#p" x="558.5" y="414.5"/>
<use href="#p" x="557.5" y="411.5"/>
<use href="#p" x="557.5" y="405.5"/>
<use href="#p" x="558.5" y="405.5"/>
<use href="#p" x="552.5" y="407.5"/>
<use href="#p" x="556.5" y="408.5"/>
<use href="#p" x="553.5" y="410.5"/>
<use href="#p" x="557.5" y="413.5"/>
<use href="#p" x="558.5" y="407.5"/>
<use href="#p" x="550.5" y="405.5"/>
<use href="#p" x="567.5" y="405.5"/>
<use href="#p" x="567.5" y="405.5"/>
<use href="#p" x="566.5" y="407.5"/>
<use href="#p" x="566.5" y="412.5"/>
<use href="#p" x="566.5" y="405.5"/>
<use href="#p" x="560.5" y="408.5"/>
<use href="#p" x="569.5" y="409.5"/>
<use href="#p" x="562.5" y="409.5"/>
<use href="#p" x="572.5" y="406.5"/>
<use href="#p" x="579.5" y="409.5"/>
<use href="#p" x="574.5" y="408.5"/>
<use href="#p" x="588.5" y="413.5"/>
<use href="#p" x="582.5" y="412.5"/>
<use href="#p" x="589.5" y="409.5"/>
<use href="#p" x="590.5" y="413.5"/>
<use href="#p" x="482.5" y="417.5"/>
<use href="#p" x="482.5" y="416.5"/>
<use href="#p" x="488.5" y="421.5"/>
<use href="#p" x="496.5" y="417.5"/>
<use href="#p" x="490.5" y="417.5"/>
<use href="#p" x="497.5" y="415.5"/>
<use href="#p" x="495.5" y="418.5"/>
<use href="#p" x="492.5" y="418.5"/>
<use href="#p" x="501.5" y="416.5"/>
<use href="#p" x="508.5" y="422.5"/>
<use href="#p" x="503.5" y="417.5"/>
<use href="#p" x="505.5" y="424.5"/>
<use href="#p" x="507.5" y="419.5"/>
<use href="#p" x="513.5" y="422.5"/>
<use href="#p" x="515.5" y="415.5"/>
<use href="#p" x="516.5" y="423.5"/>
<use href="#p" x="514.5" y="416.5"/>
<use href="#p" x="513.5" y="416.5"/>
<use href="#p" x="518.5" y="422.5"/>
<use href="#p" x="512.5" y="418.5"/>
<use href="#p" x="511.5" y="419.5"/>
<use href="#p" x="527.5" y="424.5"/>
<use href="#p" x="520.5" y="424.5"/>
<use href="#p" x="529.5" y="423.5"/>
<use href="#p" x="521.5" y="423.5"/>
<use href="#p" x="529.5" y="422.5"/>
<use href="#p" x="525.5" y="418.5"/>
<use href="#p" x="528.5" y="420.5"/>
<use href="#p" x="523.5" y="415.5"/>
<use href="#p" x="537.5" y="417.5"/>
<use href="#p" x="531.5" y="418.5"/>
<use href="#p" x="534.5" y="423.5"/>
<use href="#p" x="534.5" y="416.5"/>
<use href="#p" x="538.5" y="421.5"/>
<use href="#p" x="535.5" y="423.5"/>
<use href="#p" x="534.5" y="418.5"/>
<use href="#p" x="530.5" y="421.5"/>
<use href="#p" x="549.5" y="415.5"/>
<use href="#p" x="544.5" y="419.5"/>
<use href="#p" x="544.5" y="415.5"/>
<use href="#p" x="548.5" y="415.5"/>
<use href="#p" x="546.5" y="418.5"/>
<use href="#p" x="544.5" y="423.5"/>
<use href="#p" x="542.5" y="420.5"/>
<use href="#p" x="542.5" y="421.5"/>
<use href="#p" x="545.5" y="421.5"/>
<use href="#p" x="540.5" y="421.5"/>
<use href="#p" x="546.5" y="415.5"/>
<use href="#p" x="549.5" y="423.5"/>
<use href="#p" x="557.5" y="420.5"/>
<use href="#p" x="559.5" y="416.5"/>
<use href="#p" x="557.5" y="424.5"/>
<use href="#p" x="550.5" y="421.5"/>
<use href="#p" x="559.5" y="416.5"/>
<use href="#p" x="555.5" y="423.5"/>
<use href="#p" x="552.5" y="417.5"/>
<use href="#p" x="557.5" y="422.5"/>
<use href="#p" x="559.5" y="421.5"/>
<use href="#p" x="550.5" y="423.5"/>
<use href="#p" x="552.5" y="420.5"/>
<use href="#p" x="557.5" y="424.5"/>
<use href="#p" x="561.5" y="420.5"/>
<use href="#p" x="565.5" y="422.5"/>
<use href="#p" x="561.5" y="420.5"/>
<use href="#p" x="560.5" y="424.5"/>
<use href="#p" x="560.5" y="420.5"/>
<use href="#p" x="561.5" y="417.5"/>
<use href="#p" x="564.5" y="417.5"/>
<use href="#p" x="562.5" y="418.5"/>
<use href="#p" x="564.5" y="424.5"/>
<use href="#p" x="562.5" y="416.5"/>
<use href="#p" x="560.5" y="424.5"/>
<use href="#p" x="567.5" y="423.5"/>
<use href="#p" x="574.5" y="421.5"/>
<use href="#p" x="575.5" y="422.5"/>
<use href="#p" x="571.5" y="424.5"/>
<use href="#p" x="575.5" y="421.5"/>
<use href="#p" x="575.5" y="419.5"/>
<use href="#p" x="570.5" y="416.5"/>
<use href="#p" x="574.5" y="415.5"/>
<use href="#p" x="575.5" y="416.5"/>
<use href="#p" x="584.5" y="421.5"/>
<use href="#p" x="582.5" y="416.5"/>
<use href="#p" x="586.5" y="423.5"/>
<use href="#p" x="582.5" y="415.5"/>
<use href="#p" x="588.5" y="422.5"/>
<use href="#p" x="597.5" y="419.5"/>
<use href="#p" x="599.5" y="423.5"/>
<use href="#p" x="597.5" y="424.5"/>
<use href="#p" x="485.5" y="425.5"/>
<use href="#p" x="485.5" y="429.5"/>
<use href="#p" x="480.5" y="428.5"/>
<use href="#p" x="496.5" y="434.5"/>
<use href="#p" x="497.5" y="426.5"/>
<use href="#p" x="497.5" y="425.5"/>
<use href="#p" x="498.5" y="427.5"/>
<use href="#p" x="499.5" y="425.5"/>
<use href="#p" x="501.5" y="433.5"/>
<use href="#p" x="508.5" y="430.5"/>
<use href="#p" x="505.5" y="427.5"/>
<use href="#p" x="503.5" y="426.5"/>
<use href="#p" x="503.5" y="426.5"/>
<use href="#p" x="514.5" y="428.5"/>
<use href="#p" x="513.5" y="434.5"/>
<use href="#p" x="519.5" y="434.5"/>
<use href="#p" x="513.5" y="425.5"/>
<use href="#p" x="511.5" y="433.5"/>
<use href="#p" x="521.5" y="434.5"/>
<use href="#p" x="522.5" y="430.5"/>
<use href="#p" x="524.5" y="426.5"/>
<use href="#p" x="523.5" y="432.5"/>
<use href="#p" x="525.5" y="433.5"/>
<use href="#p" x="520.5" y="426.5"/>
<use href="#p" x="524.5" y="431.5"/>
<use href="#p" x="524.5" y="427.5"/>
<use href="#p" x="538.5" y="431.5"/>
<use href="#p" x="531.5" y="432.5"/>
<use href="#p" x="536.5" y="432.5"/>
<use href="#p" x="537.5" y="430.5"/>
<use href="#p" x="533.5" y="433.5"/>
<use href="#p" x="539.5" y="434.5"/>
<use href="#p" x="533.5" y="427.5"/>
<use href="#p" x="531.5" y="431.5"/>
<use href="#p" x="542.5" y="429.5"/>
<use href="#p" x="545.5" y="429.5"/>
<use href="#p" x="545.5" y="428.5"/>
<use href="#p" x="545.5" y="434.5"/>
<use href="#p" x="547.5" y="434.5"/>
<use href="#p" x="544.5" y="426.5"/>
<use href="#p" x="542.5" y="427.5"/>
<use href="#p" x="547.5" y="427.5"/>
<use href="#p" x="545.5" y="434.5"/>
<use href="#p" x="544.5" y="427.5"/>
<use href="#p" x="548.5" y="434.5"/>
<use href="#p" x="540.5" y="433.5"/>
<use href="#p" x="552.5" y="428.5"/>
<use href="#p" x="551.5" y="427.5"/>
<use href="#p" x="557.5" y="429.5"/>
<use href="#p" x="553.5" y="428.5"/>
<use href="#p" x="559.5" y="434.5"/>
<use href="#p" x="553.5" y="427.5"/>
<use href="#p" x="552.5" y="432.5"/>
<use href="#p" x="559.5" y="426.5"/>
<use href="#p" x="551.5" y="428.5"/>
<use href="#p" x="558.5" y="433.5"/>
<use href="#p" x="559.5" y="429.5"/>
<use href="#p" x="550.5" y="425.5"/>
<use href="#p" x="563.5" y="426.5"/>
<use href="#p" x="562.5" y="426.5"/>
<use href="#p" x="569.5" y="429.5"/>
<use href="#p" x="565.5" y="426.5"/>
<use href="#p" x="565.5" y="427.5"/>
<use href="#p" x="569.5" y="433.5"/>
<use href="#p" x="567.5" y="430.5"/>
<use href="#p" x="567.5" y="425.5"/>
<use href="#p" x="563.5" y="433.5"/>
<use href="#p" x="567.5" y="428.5"/>
<use href="#p" x="563.5" y="426.5"/>
<use href="#p" x="560.5" y="434.5"/>
<use href="#p" x="578.5" y="426.5"/>
<use href="#p" x="574.5" y="430.5"/>
<use href="#p" x="571.5" y="427.5"/>
<use href="#p" x="571.5" y="425.5"/>
<use href="#p" x="573.5" y="433.5"/>
<use href="#p" x="572.5" y="429.5"/>
<use href="#p" x="573.5" y="430.5"/>
<use href="#p" x="572.5" y="425.5"/>
<use href="#p" x="589.5" y="430.5"/>
<use href="#p" x="584.5" y="427.5"/>
<use href="#p" x="587.5" y="426.5"/>
<use href="#p" x="586.5" y="429.5"/>
<use href="#p" x="580.5" y="430.5"/>
<use href="#p" x="590.5" y="429.5"/>
<use href="#p" x="592.5" y="426.5"/>
<use href="#p" x="596.5" y="430.5"/>
<use href="#p" x="495.5" y="312.5"/>
<use href="#p" x="498.5" y="309.5"/>
<use href="#p" x="507.5" y="312.5"/>
<use href="#p" x="502.5" y="309.5"/>
<use href="#p" x="502.5" y="310.5"/>
<use href="#p" x="510.5" y="307.5"/>
<use href="#p" x="510.5" y="307.5"/>
<use href="#p" x="513.5" y="308.5"/>
<use href="#p" x="527.5" y="307.5"/>
<use href="#p" x="529.5" y="309.5"/>
<use href="#p" x="520.5" y="309.5"/>
<use href="#p" x="532.5" y="314.5"/>
<use href="#p" x="535.5" y="314.5"/>
<use href="#p" x="497.5" y="320.5"/>
<use href="#p" x="498.5" y="319.5"/>
<use href="#p" x="509.5" y="315.5"/>
<use href="#p" x="506.5" y="315.5"/>
<use href="#p" x="503.5" y="316.5"/>
<use href="#p" x="511.5" y="315.5"/>
<use href="#p" x="517.5" y="321.5"/>
<use href="#p" x="518.5" y="324.5"/>
<use href="#p" x="528.5" y="317.5"/>
<use href="#p" x="484.5" y="330.5"/>
<use href="#p" x="480.5" y="326.5"/>
<use href="#p" x="498.5" y="327.5"/>
<use href="#p" x="491.5" y="327.5"/>
<use href="#p" x="498.5" y="329.5"/>
<use href="#p" x="504.5" y="326.5"/>
<use href="#p" x="507.5" y="326.5"/>
<use href="#p" x="506.5" y="334.5"/>
<use href="#p" x="518.5" y="329.5"/>
<use href="#p" x="510.5" y="327.5"/>
<use href="#p" x="518.5" y="332.5"/>
<use href="#p" x="515.5" y="327.5"/>
<use href="#p" x="514.5" y="333.5"/>
<use href="#p" x="529.5" y="325.5"/>
<use href="#p" x="527.5" y="325.5"/>
<use href="#p" x="528.5" y="328.5"/>
<use href="#p" x="530.5" y="331.5"/>
<use href="#p" x="481.5" y="335.5"/>
<use href="#p" x="486.5" y="337.5"/>
<use href="#p" x="487.5" y="335.5"/>
<use href="#p" x="493.5" y="340.5"/>
<use href="#p" x="492.5" y="336.5"/>
<use href="#p" x="491.5" y="338.5"/>
<use href="#p" x="505.5" y="335.5"/>
<use href="#p" x="505.5" y="338.5"/>
<use href="#p" x="500.5" y="335.5"/>
<use href="#p" x="505.5" y="342.5"/>
<use href="#p" x="501.5" y="340.5"/>
<use href="#p" x="514.5" y="343.5"/>
<use href="#p" x="511.5" y="339.5"/>
<use href="#p" x="519.5" y="337.5"/>
<use href="#p" x="517.5" y="335.5"/>
<use href="#p" x="512.5" y="342.5"/>
<use href="#p" x="522.5" y="339.5"/>
<use href="#p" x="523.5" y="336.5"/>
<use href="#p" x="523.5" y="343.5"/>
<use href="#p" x="525.5" y="343.5"/>
<use href="#p" x="525.5" y="341.5"/>
<use href="#p" x="532.5" y="339.5"/>
<use href="#p" x="489.5" y="354.5"/>
<use href="#p" x="489.5" y="350.5"/>
<use href="#p" x="482.5" y="348.5"/>
<use href="#p" x="499.5" y="353.5"/>
<use href="#p" x="497.5" y="350.5"/>
<use href="#p" x="494.5" y="352.5"/>
<use href="#p" x="498.5" y="352.5"/>
<use href="#p" x="499.5" y="351.5"/>
<use href="#p" x="506.5" y="350.5"/>
<use href="#p" x="508.5" y="349.5"/>
<use href="#p" x="508.5" y="347.5"/>
<use href="#p" x="509.5" y="352.5"/>
<use href="#p" x="501.5" y="351.5"/>
<use href="#p" x="510.5" y="346.5"/>
<use href="#p" x="514.5" y="354.5"/>
<use href="#p" x="512.5" y="350.5"/>
<use href="#p" x="514.5" y="346.5"/>
<use href="#p" x="516.5" y="348.5"/>
<use href="#p" x="528.5" y="352.5"/>
<use href="#p" x="520.5" y="349.5"/>
<use href="#p" x="523.5" y="351.5"/>
<use href="#p" x="523.5" y="351.5"/>
<use href="#p" x="520.5" y="354.5"/>
<use href="#p" x="533.5" y="353.5"/>
<use href="#p" x="537.5" y="348.5"/>
<use href="#p" x="530.5" y="351.5"/>
<use href="#p" x="548.5" y="346.5"/>
<use href="#p" x="548.5" y="353.5"/>
<use href="#p" x="506.5" y="437.5"/>
<use href="#p" x="504.5" y="440.5"/>
<use href="#p" x="503.5" y="436.5"/>
<use href="#p" x="502.5" y="443.5"/>
<use href="#p" x="507.5" y="436.5"/>
<use href="#p" x="518.5" y="441.5"/>
<use href="#p" x="519.5" y="440.5"/>
<use href="#p" x="514.5" y="439.5"/>
<use href="#p" x="515.5" y="441.5"/>
<use href="#p" x="519.5" y="436.5"/>
<use href="#p" x="528.5" y="441.5"/>
<use href="#p" x="523.5" y="440.5"/>
<use href="#p" x="520.5" y="436.5"/>
<use href="#p" x="520.5" y="443.5"/>
<use href="#p" x="521.5" y="438.5"/>
<use href="#p" x="536.5" y="435.5"/>
<use href="#p" x="530.5" y="436.5"/>
<use href="#p" x="535.5" y="438.5"/>
<use href="#p" x="530.5" y="437.5"/>
<use href="#p" x="532.5" y="442.5"/>
<use href="#p" x="537.5" y="435.5"/>
<use href="#p" x="538.5" y="436.5"/>
<use href="#p" x="533.5" y="439.5"/>
<use href="#p" x="541.5" y="442.5"/>
<use href="#p" x="546.5" y="442.5"/>
<use href="#p" x="549.5" y="443.5"/>
<use href="#p" x="543.5" y="441.5"/>
<use href="#p" x="546.5" y="437.5"/>
<use href="#p" x="547.5" y="444.5"/>
<use href="#p" x="545.5" y="442.5"/>
<use href="#p" x="542.5" y="443.5"/>
<use href="#p" x="553.5" y="440.5"/>
<use href="#p" x="556.5" y="439.5"/>
<use href="#p" x="558.5" y="442.5"/>
<use href="#p" x="555.5" y="443.5"/>
<use href="#p" x="554.5" y="438.5"/>
<use href="#p" x="559.5" y="438.5"/>
<use href="#p" x="551.5" y="443.5"/>
<use href="#p" x="556.5" y="438.5"/>
<use href="#p" x="566.5" y="439.5"/>
<use href="#p" x="565.5" y="444.5"/>
<use href="#p" x="565.5" y="436.5"/>
<use href="#p" x="564.5" y="438.5"/>
<use href="#p" x="569.5" y="439.5"/>
<use href="#p" x="564.5" y="442.5"/>
<use href="#p" x="567.5" y="435.5"/>
<use href="#p" x="566.5" y="444.5"/>
<use href="#p" x="572.5" y="444.5"/>
<use href="#p" x="570.5" y="439.5"/>
<use href="#p" x="571.5" y="440.5"/>
<use href="#p" x="574.5" y="443.5"/>
<use href="#p" x="570.5" y="439.5"/>
<use href="#p" x="572.5" y="436.5"/>
<use href="#p" x="578.5" y="441.5"/>
<use href="#p" x="573.5" y="440.5"/>
<use href="#p" x="580.5" y="438.5"/>
<use href="#p" x="580.5" y="435.5"/>
<use href="#p" x="588.5" y="442.5"/>
<use href="#p" x="582.5" y="435.5"/>
<use href="#p" x="588.5" y="435.5"/>
<use href="#p" x="582.5" y="443.5"/>
<use href="#p" x="585.5" y="439.5"/>
<use href="#p" x="587.5" y="444.5"/>
<use href="#p" x="599.5" y="435.5"/>
<use href="#p" x="595.5" y="441.5"/>
<use href="#p" x="598.5" y="439.5"/>
<use href="#p" x="596.5" y="437.5"/>
<use href="#p" x="597.5" y="440.5"/>
<use href="#p" x="605.5" y="436.5"/>
<use href="#p" x="607.5" y="439.5"/>
<use href="#p" x="601.5" y="444.5"/>
<use href="#p" x="604.5" y="436.5"/>
<use href="#p" x="602.5" y="437.5"/>
<use href="#p" x="618.5" y="435.5"/>
<use href="#p" x="617.5" y="438.5"/>
<use href="#p" x="614.5" y="442.5"/>
<use href="#p" x="502.5" y="454.5"/>
<use href="#p" x="507.5" y="453.5"/>
<use href="#p" x="519.5" y="452.5"/>
<use href="#p" x="522.5" y="452.5"/>
<use href="#p" x="535.5" y="452.5"/>
<use href="#p" x="531.5" y="449.5"/>
<use href="#p" x="535.5" y="452.5"/>
<use href="#p" x="542.5" y="454.5"/>
<use href="#p" x="544.5" y="446.5"/>
<use href="#p" x="548.5" y="448.5"/>
<use href="#p" x="549.5" y="445.5"/>
<use href="#p" x="547.5" y="451.5"/>
<use href="#p" x="550.5" y="450.5"/>
<use href="#p" x="555.5" y="447.5"/>
<use href="#p" x="550.5" y="451.5"/>
<use href="#p" x="553.5" y="454.5"/>
<use href="#p" x="552.5" y="448.5"/>
<use href="#p" x="561.5" y="446.5"/>
<use href="#p" x="560.5" y="453.5"/>
<use href="#p" x="567.5" y="446.5"/>
<use href="#p" x="562.5" y="451.5"/>
<use href="#p" x="560.5" y="445.5"/>
<use href="#p" x="577.5" y="447.5"/>
<use href="#p" x="577.5" y="446.5"/>
<use href="#p" x="576.5" y="451.5"/>
<use href="#p" x="576.5" y="446.5"/>
<use href="#p" x="574.5" y="447.5"/>
<use href="#p" x="583.5" y="454.5"/>
<use href="#p" x="581.5" y="448.5"/>
<use href="#p" x="587.5" y="445.5"/>
<use href="#p" x="587.5" y="454.5"/>
<use href="#p" x="586.5" y="454.5"/>
<use href="#p" x="597.5" y="454.5"/>
<use href="#p" x="594.5" y="449.5"/>
<use href="#p" x="599.5" y="451.5"/>
<use href="#p" x="603.5" y="452.5"/>
<use href="#p" x="609.5" y="450.5"/>
<use href="#p" x="604.5" y="450.5"/>
<use href="#p" x="618.5" y="452.5"/>
<use href="#p" x="616.5" y="451.5"/>
<use href="#p" x="299.5" y="438.5"/>
<use href="#p" x="296.5" y="440.5"/>
<use href="#p" x="298.5" y="438.5"/>
<use href="#p" x="296.5" y="438.5"/>
<use href="#p" x="328.5" y="441.5"/>
<use href="#p" x="359.5" y="440.5"/>
<use href="#p" x="336.5" y="439.5"/>
<use href="#p" x="348.5" y="438.5"/>
<use href="#p" x="320.5" y="438.5"/>
<use href="#p" x="322.5" y="439.5"/>
<use href="#p" x="344.5" y="438.5"/>
<use href="#p" x="323.5" y="438.5"/>
<use href="#p" x="358.5" y="439.5"/>
<use href="#p" x="312.5" y="438.5"/>
<use href="#p" x="389.5" y="438.5"/>
<use href="#p" x="350.5" y="441.5"/>
<use href="#p" x="352.5" y="439.5"/>
<use href="#p" x="371.5" y="440.5"/>
<use href="#p" x="369.5" y="441.5"/>
<use href="#p" x="387.5" y="439.5"/>
<use href="#p" x="351.5" y="440.5"/>
<use href="#p" x="330.5" y="439.5"/>
<use href="#p" x="379.5" y="438.5"/>
<use href="#p" x="391.5" y="440.5"/>
<use href="#p" x="322.5" y="440.5"/>
<use href="#p" x="363.5" y="440.5"/>
<use href="#p" x="397.5" y="440.5"/>
<use href="#p" x="344.5" y="441.5"/>
<use href="#p" x="350.5" y="441.5"/>
<use href="#p" x="360.5" y="437.5"/>
<use href="#p" x="348.5" y="441.5"/>
<use href="#p" x="331.5" y="439.5"/>
<use href="#p" x="349.5" y="439.5"/>
<use href="#p" x="376.5" y="439.5"/>
<use href="#p" x="338.5" y="442.5"/>
<use href="#p" x="391.5" y="440.5"/>
<use href="#p" x="393.5" y="440.5"/>
<use href="#p" x="400.5" y="439.5"/>
<use href="#p" x="392.5" y="440.5"/>
<use href="#p" x="369.5" y="439.5"/>
<use href="#p" x="320.5" y="441.5"/>
<use href="#p" x="305.5" y="439.5"/>
<use href="#p" x="360.5" y="439.5"/>
<use href="#p" x="342.5" y="438.5"/>
<use href="#p" x="307.5" y="439.5"/>
<use href="#p" x="359.5" y="439.5"/>
<use href="#p" x="310.5" y="437.5"/>
<use href="#p" x="325.5" y="440.5"/>
<use href="#p" x="377.5" y="439.5"/>
<use href="#p" x="340.5" y="443.5"/>
<use href="#p" x="370.5" y="438.5"/>
<use href="#p" x="309.5" y="440.5"/>
<use href="#p" x="363.5" y="441.5"/>
<use href="#p" x="341.5" y="440.5"/>
<use href="#p" x="330.5" y="439.5"/>
<use href="#p" x="390.5" y="441.5"/>
<use href="#p" x="381.5" y="439.5"/>
<use href="#p" x="364.5" y="442.5"/>
<use href="#p" x="374.5" y="439.5"/>
<use href="#p" x="314.5" y="439.5"/>
<use href="#p" x="381.5" y="439.5"/>
<use href="#p" x="305.5" y="442.5"/>
<use href="#p" x="359.5" y="439.5"/>
<use href="#p" x="301.5" y="440.5"/>
<use href="#p" x="324.5" y="437.5"/>
<use href="#p" x="303.5" y="439.5"/>
<use href="#p" x="352.5" y="438.5"/>
<use href="#p" x="372.5" y="441.5"/>
<use href="#p" x="308.5" y="440.5"/>
<use href="#p" x="368.5" y="443.5"/>
<use href="#p" x="317.5" y="438.5"/>
<use href="#p" x="315.5" y="439.5"/>
<use href="#p" x="341.5" y="437.5"/>
<use href="#p" x="390.5" y="439.5"/>
<use href="#p" x="328.5" y="441.5"/>
<use href="#p" x="366.5" y="439.5"/>
<use href="#p" x="340.5" y="437.5"/>
<use href="#p" x="376.5" y="440.5"/>
<use href="#p" x="307.5" y="441.5"/>
<use href="#p" x="332.5" y="440.5"/>
<use href="#p" x="345.5" y="441.5"/>
<use href="#p" x="323.5" y="439.5"/>
<use href="#p" x="344.5" y="439.5"/>
<use href="#p" x="354.5" y="441.5"/>
<use href="#p" x="311.5" y="440.5"/>
<use href="#p" x="377.5" y="437.5"/>
<use href="#p" x="345.5" y="441.5"/>
<use href="#p" x="389.5" y="442.5"/>
<use href="#p" x="391.5" y="439.5"/>
<use href="#p" x="330.5" y="439.5"/>
<use href="#p" x="371.5" y="441.5"/>
<use href="#p" x="339.5" y="440.5"/>
<use href="#p" x="382.5" y="441.5"/>
<use href="#p" x="365.5" y="440.5"/>
<use href="#p" x="300.5" y="439.5"/>
<use href="#p" x="347.5" y="442.5"/>
<use href="#p" x="376.5" y="440.5"/>
<use href="#p" x="316.5" y="442.5"/>
<use href="#p" x="364.5" y="440.5"/>
<use href="#p" x="328.5" y="439.5"/>
<use href="#p" x="334.5" y="440.5"/>
<use href="#p" x="342.5" y="439.5"/>
<use href="#p" x="402.5" y="443.5"/>
<use href="#p" x="307.5" y="442.5"/>
<use href="#p" x="355.5" y="437.5"/>
<use href="#p" x="329.5" y="440.5"/>
<use href="#p" x="348.5" y="440.5"/>
<use href="#p" x="392.5" y="439.5"/>
<use href="#p" x="309.5" y="440.5"/>
<use href="#p" x="355.5" y="441.5"/>
<use href="#p" x="331.5" y="439.5"/>
<use href="#p" x="331.5" y="440.5"/>
<use href="#p" x="300.5" y="441.5"/>
<use href="#p" x="357.5" y="441.5"/>
<use href="#p" x="347.5" y="442.5"/>
<use href="#p" x="310.5" y="440.5"/>
<use href="#p" x="371.5" y="437.5"/>
<use href="#p" x="310.5" y="441.5"/>
<use href="#p" x="336.5" y="443.5"/>
<use href="#p" x="363.5" y="440.5"/>
<use href="#p" x="334.5" y="441.5"/>
<use href="#p" x="336.5" y="442.5"/>
<use href="#p" x="312.5" y="438.5"/>
<use href="#p" x="384.5" y="440.5"/>
<use href="#p" x="306.5" y="440.5"/>
<use href="#p" x="306.5" y="436.5"/>
<use href="#p" x="370.5" y="439.5"/>
<use href="#p" x="389.5" y="437.5"/>
<use href="#p" x="348.5" y="438.5"/>
<use href="#p" x="345.5" y="438.5"/>
<use href="#p" x="313.5" y="438.5"/>
<use href="#p" x="335.5" y="439.5"/>
<use href="#p" x="375.5" y="441.5"/>
<use href="#p" x="338.5" y="438.5"/>
<use href="#p" x="352.5" y="439.5"/>
<use href="#p" x="384.5" y="438.5"/>
<use href="#p" x="368.5" y="439.5"/>
<use href="#p" x="306.5" y="437.5"/>
<use href="#p" x="366.5" y="441.5"/>
<use href="#p" x="386.5" y="438.5"/>
<use href="#p" x="314.5" y="437.5"/>
<use href="#p" x="397.5" y="440.5"/>
<use href="#p" x="308.5" y="440.5"/>
<use href="#p" x="326.5" y="441.5"/>
<use href="#p" x="366.5" y="436.5"/>
<use href="#p" x="369.5" y="441.5"/>
<use href="#p" x="371.5" y="442.5"/>
<use href="#p" x="302.5" y="438.5"/>
<use href="#p" x="343.5" y="438.5"/>
<use href="#p" x="393.5" y="437.5"/>
<use href="#p" x="321.5" y="436.5"/>
<use href="#p" x="319.5" y="440.5"/>
<use href="#p" x="304.5" y="439.5"/>
<use href="#p" x="303.5" y="440.5"/>
<use href="#p" x="340.5" y="438.5"/>
<use href="#p" x="388.5" y="438.5"/>
<use href="#p" x="329.5" y="439.5"/>
<use href="#p" x="305.5" y="443.5"/>
<use href="#p" x="361.5" y="441.5"/>
<use href="#p" x="311.5" y="442.5"/>
<use href="#p" x="386.5" y="439.5"/>
<use href="#p" x="365.5" y="443.5"/>
<use href="#p" x="379.5" y="440.5"/>
<use href="#p" x="367.5" y="442.5"/>
<use href="#p" x="341.5" y="438.5"/>
<use href="#p" x="386.5" y="439.5"/>
<use href="#p" x="402.5" y="440.5"/>
<use href="#p" x="310.5" y="438.5"/>
<use href="#p" x="365.5" y="441.5"/>
<use href="#p" x="313.5" y="439.5"/>
<use href="#p" x="319.5" y="441.5"/>
<use href="#p" x="320.5" y="441.5"/>
<use href="#p" x="391.5" y="442.5"/>
<use href="#p" x="354.5" y="437.5"/>
<use href="#p" x="346.5" y="439.5"/>
<use href="#p" x="358.5" y="438.5"/>
<use href="#p" x="306.5" y="438.5"/>
<use href="#p" x="322.5" y="439.5"/>
<use href="#p" x="318.5" y="436.5"/>
<use href="#p" x="402.5" y="441.5"/>
<use href="#p" x="373.5" y="439.5"/>
<use href="#p" x="395.5" y="441.5"/>
<use href="#p" x="327.5" y="437.5"/>
<use href="#p" x="329.5" y="438.5"/>
<use href="#p" x="395.5" y="439.5"/>
<use href="#p" x="372.5" y="437.5"/>
<use href="#p" x="391.5" y="439.5"/>
<use href="#p" x="388.5" y="441.5"/>
<use href="#p" x="300.5" y="440.5"/>
<use href="#p" x="343.5" y="439.5"/>
<use href="#p" x="357.5" y="438.5"/>
<use href="#p" x="316.5" y="440.5"/>
<use href="#p" x="326.5" y="441.5"/>
<use href="#p" x="373.5" y="440.5"/>
<use href="#p" x="386.5" y="438.5"/>
<use href="#p" x="336.5" y="441.5"/>
<use href="#p" x="351.5" y="437.5"/>
<use href="#p" x="379.5" y="440.5"/>
<use href="#p" x="392.5" y="438.5"/>
<use href="#p" x="335.5" y="441.5"/>
<use href="#p" x="402.5" y="439.5"/>
<use href="#p" x="301.5" y="439.5"/>
<use href="#p" x="380.5" y="438.5"/>
<use href="#p" x="398.5" y="437.5"/>
<use href="#p" x="364.5" y="440.5"/>
<use href="#p" x="341.5" y="438.5"/>
<use href="#p" x="363.5" y="439.5"/>
<use href="#p" x="390.5" y="442.5"/>
<use href="#p" x="346.5" y="442.5"/>
<use href="#p" x="326.5" y="438.5"/>
<use href="#p" x="405.5" y="438.5"/>
<use href="#p" x="424.5" y="440.5"/>
<use href="#p" x="408.5" y="438.5"/>
<use href="#p" x="417.5" y="438.5"/>
<use href="#p" x="407.5" y="439.5"/>
<use href="#p" x="410.5" y="438.5"/>
<use href="#p" x="436.5" y="438.5"/>
<use href="#p" x="405.5" y="440.5"/>
<use href="#p" x="421.5" y="438.5"/>
<use href="#p" x="420.5" y="438.5"/>
<use href="#p" x="409.5" y="437.5"/>
<use href="#p" x="413.5" y="438.5"/>
<use href="#p" x="418.5" y="438.5"/>
<use href="#p" x="427.5" y="438.5"/>
<use href="#p" x="418.5" y="439.5"/>
<use href="#p" x="405.5" y="440.5"/>
<use href="#p" x="405.5" y="438.5"/>
<use href="#p" x="432.5" y="439.5"/>
<use href="#p" x="404.5" y="438.5"/>
<use href="#p" x="424.5" y="440.5"/>
<use href="#p" x="425.5" y="437.5"/>
<use href="#p" x="411.5" y="438.5"/>
<use href="#p" x="421.5" y="440.5"/>
<use href="#p" x="423.5" y="439.5"/>
<use href="#p" x="438.5" y="440.5"/>
<use href="#p" x="412.5" y="440.5"/>
<use href="#p" x="418.5" y="439.5"/>
<use href="#p" x="407.5" y="439.5"/>
<use href="#p" x="417.5" y="439.5"/>
<use href="#p" x="429.5" y="440.5"/>
<use href="#p" x="412.5" y="439.5"/>
<use href="#p" x="405.5" y="438.5"/>
<use href="#p" x="409.5" y="437.5"/>
<use href="#p" x="429.5" y="438.5"/>
<use href="#p" x="408.5" y="437.5"/>
<use href="#p" x="426.5" y="440.5"/>
<use href="#p" x="431.5" y="440.5"/>
<use href="#p" x="409.5" y="440.5"/>
<use href="#p" x="404.5" y="438.5"/>
<use href="#p" x="426.5" y="439.5"/>
<use href="#p" x="420.5" y="439.5"/>
<use href="#p" x="420.5" y="440.5"/>
<use href="#p" x="403.5" y="439.5"/>
<use href="#p" x="430.5" y="440.5"/>
<use href="#p" x="439.5" y="440.5"/>
<use href="#p" x="416.5" y="439.5"/>
<use href="#p" x="434.5" y="440.5"/>
<use href="#p" x="412.5" y="437.5"/>
<use href="#p" x="439.5" y="438.5"/>
<use href="#p" x="411.5" y="438.5"/>
<use href="#p" x="437.5" y="440.5"/>
<use href="#p" x="437.5" y="440.5"/>
<use href="#p" x="432.5" y="439.5"/>
<use href="#p" x="434.5" y="441.5"/>
<use href="#p" x="439.5" y="439.5"/>
<use href="#p" x="411.5" y="437.5"/>
<use href="#p" x="410.5" y="439.5"/>
<use href="#p" x="409.5" y="440.5"/>
<use href="#p" x="436.5" y="439.5"/>
<use href="#p" x="412.5" y="438.5"/>
<use href="#p" x="408.5" y="439.5"/>
<use href="#p" x="414.5" y="439.5"/>
<use href="#p" x="429.5" y="440.5"/>
<use href="#p" x="432.5" y="439.5"/>
<use href="#p" x="411.5" y="438.5"/>
<use href="#p" x="436.5" y="438.5"/>
<use href="#p" x="421.5" y="437.5"/>
<use href="#p" x="422.5" y="440.5"/>
<use href="#p" x="417.5" y="439.5"/>
<use href="#p" x="414.5" y="439.5"/>
<use href="#p" x="403.5" y="440.5"/>
<use href="#p" x="434.5" y="437.5"/>
<use href="#p" x="420.5" y="438.5"/>
<use href="#p" x="408.5" y="439.5"/>
<use href="#p" x="413.5" y="438.5"/>
<use href="#p" x="410.5" y="440.5"/>
<use href="#p" x="422.5" y="438.5"/>
<use href="#p" x="424.5" y="439.5"/>
<use href="#p" x="436.5" y="439.5"/>
<use href="#p" x="412.5" y="438.5"/>
<use href="#p" x="429.5" y="439.5"/>
<use href="#p" x="413.5" y="441.5"/>
<use href="#p" x="410.5" y="439.5"/>
<use href="#p" x="413.5" y="438.5"/>
<use href="#p" x="428.5" y="438.5"/>
<use href="#p" x="436.5" y="439.5"/>
<use href="#p" x="435.5" y="440.5"/>
<use href="#p" x="416.5" y="439.5"/>
<use href="#p" x="424.5" y="437.5"/>
<use href="#p" x="412.5" y="440.5"/>
<use href="#p" x="433.5" y="439.5"/>
<use href="#p" x="431.5" y="438.5"/>
<use href="#p" x="428.5" y="439.5"/>
<use href="#p" x="408.5" y="438.5"/>
<use href="#p" x="420.5" y="441.5"/>
<use href="#p" x="414.5" y="438.5"/>
<use href="#p" x="426.5" y="443.5"/>
<use href="#p" x="424.5" y="440.5"/>
<use href="#p" x="417.5" y="439.5"/>
<use href="#p" x="411.5" y="440.5"/>
<use href="#p" x="418.5" y="438.5"/>
<use href="#p" x="428.5" y="440.5"/>
<use href="#p" x="403.5" y="440.5"/>
<use href="#p" x="409.5" y="441.5"/>
<use href="#p" x="433.5" y="442.5"/>
<use href="#p" x="415.5" y="438.5"/>
<use href="#p" x="434.5" y="439.5"/>
<use href="#p" x="437.5" y="435.5"/>
<use href="#p" x="405.5" y="437.5"/>
<use href="#p" x="438.5" y="438.5"/>
<use href="#p" x="405.5" y="443.5"/>
<use href="#p" x="405.5" y="435.5"/>
<use href="#p" x="435.5" y="439.5"/>
<use href="#p" x="420.5" y="441.5"/>
<use href="#p" x="447.5" y="439.5"/>
<use href="#p" x="465.5" y="440.5"/>
<use href="#p" x="467.5" y="439.5"/>
<use href="#p" x="450.5" y="438.5"/>
<use href="#p" x="470.5" y="440.5"/>
<use href="#p" x="459.5" y="441.5"/>
<use href="#p" x="441.5" y="438.5"/>
<use href="#p" x="464.5" y="440.5"/>
<use href="#p" x="461.5" y="439.5"/>
<use href="#p" x="456.5" y="438.5"/>
<use href="#p" x="472.5" y="438.5"/>
<use href="#p" x="462.5" y="438.5"/>
<use href="#p" x="460.5" y="438.5"/>
<use href="#p" x="461.5" y="440.5"/>
<use href="#p" x="452.5" y="439.5"/>
<use href="#p" x="449.5" y="440.5"/>
<use href="#p" x="457.5" y="441.5"/>
<use href="#p" x="446.5" y="439.5"/>
<use href="#p" x="451.5" y="438.5"/>
<use href="#p" x="448.5" y="438.5"/>
<use href="#p" x="440.5" y="438.5"/>
<use href="#p" x="468.5" y="439.5"/>
<use href="#p" x="444.5" y="440.5"/>
<use href="#p" x="463.5" y="438.5"/>
<use href="#p" x="479.5" y="439.5"/>
<use href="#p" x="455.5" y="441.5"/>
<use href="#p" x="460.5" y="441.5"/>
<use href="#p" x="458.5" y="438.5"/>
<use href="#p" x="457.5" y="438.5"/>
<use href="#p" x="441.5" y="439.5"/>
<use href="#p" x="468.5" y="437.5"/>
<use href="#p" x="442.5" y="438.5"/>
<use href="#p" x="461.5" y="439.5"/>
<use href="#p" x="467.5" y="439.5"/>
<use href="#p" x="467.5" y="441.5"/>
<use href="#p" x="442.5" y="440.5"/>
<use href="#p" x="450.5" y="438.5"/>
<use href="#p" x="475.5" y="441.5"/>
<use href="#p" x="474.5" y="439.5"/>
<use href="#p" x="468.5" y="440.5"/>
<use href="#p" x="476.5" y="438.5"/>
<use href="#p" x="441.5" y="439.5"/>
<use href="#p" x="465.5" y="438.5"/>
<use href="#p" x="479.5" y="436.5"/>
<use href="#p" x="467.5" y="439.5"/>
<use href="#p" x="473.5" y="441.5"/>
<use href="#p" x="466.5" y="439.5"/>
<use href="#p" x="469.5" y="440.5"/>
<use href="#p" x="460.5" y="439.5"/>
<use href="#p" x="464.5" y="437.5"/>
<use href="#p" x="460.5" y="441.5"/>
<use href="#p" x="442.5" y="438.5"/>
<use href="#p" x="467.5" y="437.5"/>
<use href="#p" x="459.5" y="437.5"/>
<use href="#p" x="468.5" y="440.5"/>
<use href="#p" x="468.5" y="439.5"/>
<use href="#p" x="467.5" y="438.5"/>
<use href="#p" x="474.5" y="439.5"/>
<use href="#p" x="455.5" y="436.5"/>
<use href="#p" x="470.5" y="439.5"/>
<use href="#p" x="460.5" y="437.5"/>
<use href="#p" x="459.5" y="440.5"/>
<use href="#p" x="452.5" y="439.5"/>
<use href="#p" x="446.5" y="440.5"/>
<use href="#p" x="454.5" y="437.5"/>
<use href="#p" x="456.5" y="439.5"/>
<use href="#p" x="457.5" y="437.5"/>
<use href="#p" x="478.5" y="438.5"/>
<use href="#p" x="454.5" y="439.5"/>
<use href="#p" x="454.5" y="440.5"/>
<use href="#p" x="462.5" y="440.5"/>
<use href="#p" x="468.5" y="440.5"/>
<use href="#p" x="451.5" y="439.5"/>
<use href="#p" x="465.5" y="439.5"/>
<use href="#p" x="442.5" y="437.5"/>
<use href="#p" x="471.5" y="439.5"/>
<use href="#p" x="478.5" y="440.5"/>
<use href="#p" x="444.5" y="440.5"/>
<use href="#p" x="448.5" y="439.5"/>
<use href="#p" x="476.5" y="439.5"/>
<use href="#p" x="441.5" y="436.5"/>
<use href="#p" x="467.5" y="438.5"/>
<use href="#p" x="457.5" y="439.5"/>
<use href="#p" x="472.5" y="436.5"/>
<use href="#p" x="477.5" y="440.5"/>
<use href="#p" x="464.5" y="440.5"/>
<use href="#p" x="461.5" y="439.5"/>
<use href="#p" x="473.5" y="441.5"/>
<use href="#p" x="440.5" y="439.5"/>
<use href="#p" x="476.5" y="438.5"/>
<use href="#p" x="468.5" y="439.5"/>
<use href="#p" x="477.5" y="439.5"/>
<use href="#p" x="465.5" y="441.5"/>
<use href="#p" x="464.5" y="438.5"/>
<use href="#p" x="476.5" y="440.5"/>
<use href="#p" x="462.5" y="440.5"/>
<use href="#p" x="469.5" y="440.5"/>
<use href="#p" x="443.5" y="440.5"/>
<use href="#p" x="448.5" y="438.5"/>
<use href="#p" x="448.5" y="441.5"/>
<use href="#p" x="472.5" y="440.5"/>
<use href="#p" x="456.5" y="440.5"/>
<use href="#p" x="440.5" y="439.5"/>
<use href="#p" x="473.5" y="439.5"/>
<use href="#p" x="452.5" y="438.5"/>
<use href="#p" x="443.5" y="437.5"/>
<use href="#p" x="465.5" y="438.5"/>
<use href="#p" x="473.5" y="440.5"/>
<use href="#p" x="456.5" y="438.5"/>
<use href="#p" x="446.5" y="438.5"/>
<use href="#p" x="467.5" y="438.5"/>
<use href="#p" x="452.5" y="438.5"/>
<use href="#p" x="446.5" y="442.5"/>
<use href="#p" x="449.5" y="435.5"/>
<use href="#p" x="444.5" y="438.5"/>
<use href="#p" x="456.5" y="436.5"/>
<use href="#p" x="442.5" y="440.5"/>
<use href="#p" x="467.5" y="438.5"/>
<use href="#p" x="461.5" y="437.5"/>
<use href="#p" x="473.5" y="439.5"/>
<use href="#p" x="452.5" y="439.5"/>
<use href="#p" x="448.5" y="442.5"/>
<use href="#p" x="469.5" y="436.5"/>
<use href="#p" x="440.5" y="439.5"/>
<use href="#p" x="447.5" y="438.5"/>
<use href="#p" x="458.5" y="437.5"/>
<use href="#p" x="474.5" y="438.5"/>
<use href="#p" x="469.5" y="440.5"/>
<use href="#p" x="458.5" y="439.5"/>
<use href="#p" x="454.5" y="438.5"/>
<use href="#p" x="476.5" y="440.5"/>
<use href="#p" x="444.5" y="439.5"/>
<use href="#p" x="471.5" y="439.5"/>
<use href="#p" x="474.5" y="438.5"/>
<use href="#p" x="451.5" y="441.5"/>
<use href="#p" x="457.5" y="437.5"/>
<use href="#p" x="566.5" y="439.5"/>
<use href="#p" x="565.5" y="438.5"/>
<use href="#p" x="567.5" y="444.5"/>
<use href="#p" x="525.5" y="439.5"/>
<use href="#p" x="482.5" y="441.5"/>
<use href="#p" x="557.5" y="440.5"/>
<use href="#p" x="571.5" y="439.5"/>
<use href="#p" x="512.5" y="439.5"/>
<use href="#p" x="577.5" y="442.5"/>
<use href="#p" x="562.5" y="440.5"/>
<use href="#p" x="531.5" y="440.5"/>
<use href="#p" x="552.5" y="438.5"/>
<use href="#p" x="585.5" y="441.5"/>
<use href="#p" x="539.5" y="441.5"/>
<use href="#p" x="526.5" y="442.5"/>
<use href="#p" x="513.5" y="443.5"/>
<use href="#p" x="561.5" y="442.5"/>
<use href="#p" x="593.5" y="439.5"/>
<use href="#p" x="587.5" y="438.5"/>
<use href="#p" x="551.5" y="443.5"/>
<use href="#p" x="536.5" y="437.5"/>
<use href="#p" x="504.5" y="437.5"/>
<use href="#p" x="528.5" y="444.5"/>
<use href="#p" x="526.5" y="441.5"/>
<use href="#p" x="480.5" y="444.5"/>
<use href="#p" x="581.5" y="441.5"/>
<use href="#p" x="512.5" y="441.5"/>
<use href="#p" x="529.5" y="437.5"/>
<use href="#p" x="536.5" y="438.5"/>
<use href="#p" x="558.5" y="443.5"/>
<use href="#p" x="548.5" y="441.5"/>
<use href="#p" x="488.5" y="443.5"/>
<use href="#p" x="536.5" y="439.5"/>
<use href="#p" x="504.5" y="436.5"/>
<use href="#p" x="561.5" y="439.5"/>
<use href="#p" x="490.5" y="438.5"/>
<use href="#p" x="492.5" y="437.5"/>
<use href="#p" x="559.5" y="437.5"/>
<use href="#p" x="554.5" y="442.5"/>
<use href="#p" x="507.5" y="440.5"/>
<use href="#p" x="510.5" y="439.5"/>
<use href="#p" x="481.5" y="438.5"/>
<use href="#p" x="486.5" y="438.5"/>
<use href="#p" x="545.5" y="441.5"/>
<use href="#p" x="516.5" y="442.5"/>
<use href="#p" x="585.5" y="442.5"/>
<use href="#p" x="532.5" y="439.5"/>
<use href="#p" x="582.5" y="442.5"/>
<use href="#p" x="575.5" y="444.5"/>
<use href="#p" x="515.5" y="443.5"/>
<use href="#p" x="503.5" y="440.5"/>
<use href="#p" x="501.5" y="438.5"/>
<use href="#p" x="567.5" y="442.5"/>
<use href="#p" x="561.5" y="441.5"/>
<use href="#p" x="526.5" y="436.5"/>
<use href="#p" x="520.5" y="438.5"/>
<use href="#p" x="536.5" y="442.5"/>
<use href="#p" x="546.5" y="442.5"/>
<use href="#p" x="545.5" y="439.5"/>
<use href="#p" x="502.5" y="437.5"/>
<use href="#p" x="559.5" y="439.5"/>
<use href="#p" x="532.5" y="441.5"/>
<use href="#p" x="512.5" y="442.5"/>
<use href="#p" x="501.5" y="443.5"/>
<use href="#p" x="590.5" y="438.5"/>
<use href="#p" x="590.5" y="440.5"/>
<use href="#p" x="538.5" y="442.5"/>
<use href="#p" x="527.5" y="439.5"/>
<use href="#p" x="588.5" y="440.5"/>
<use href="#p" x="580.5" y="438.5"/>
<use href="#p" x="549.5" y="439.5"/>
<use href="#p" x="543.5" y="437.5"/>
<use href="#p" x="509.5" y="442.5"/>
<use href="#p" x="522.5" y="442.5"/>
<use href="#p" x="503.5" y="437.5"/>
<use href="#p" x="519.5" y="439.5"/>
<use href="#p" x="566.5" y="440.5"/>
<use href="#p" x="552.5" y="439.5"/>
<use href="#p" x="501.5" y="441.5"/>
<use href="#p" x="502.5" y="438.5"/>
<use href="#p" x="578.5" y="439.5"/>
<use href="#p" x="573.5" y="440.5"/>
<use href="#p" x="507.5" y="437.5"/>
<use href="#p" x="531.5" y="443.5"/>
<use href="#p" x="567.5" y="438.5"/>
<use href="#p" x="583.5" y="441.5"/>
<use href="#p" x="586.5" y="439.5"/>
<use href="#p" x="593.5" y="438.5"/>
<use href="#p" x="577.5" y="438.5"/>
<use href="#p" x="574.5" y="442.5"/>
<use href="#p" x="581.5" y="439.5"/>
<use href="#p" x="531.5" y="438.5"/>
<use href="#p" x="549.5" y="441.5"/>
<use href="#p" x="483.5" y="441.5"/>
<use href="#p" x="483.5" y="444.5"/>
<use href="#p" x="583.5" y="442.5"/>
<use href="#p" x="583.5" y="439.5"/>
<use href="#p" x="585.5" y="437.5"/>
<use href="#p" x="504.5" y="443.5"/>
<use href="#p" x="526.5" y="441.5"/>
<use href="#p" x="594.5" y="442.5"/>
<use href="#p" x="554.5" y="440.5"/>
<use href="#p" x="579.5" y="441.5"/>
<use href="#p" x="589.5" y="441.5"/>
<use href="#p" x="572.5" y="440.5"/>
<use href="#p" x="515.5" y="441.5"/>
<use href="#p" x="515.5" y="442.5"/>
<use href="#p" x="588.5" y="441.5"/>
<use href="#p" x="499.5" y="442.5"/>
<use href="#p" x="563.5" y="437.5"/>
<use href="#p" x="585.5" y="440.5"/>
<use href="#p" x="549.5" y="436.5"/>
<use href="#p" x="548.5" y="440.5"/>
<use href="#p" x="585.5" y="438.5"/>
<use href="#p" x="541.5" y="437.5"/>
<use href="#p" x="493.5" y="436.5"/>
<use href="#p" x="568.5" y="438.5"/>
<use href="#p" x="592.5" y="440.5"/>
<use href="#p" x="499.5" y="444.5"/>
<use href="#p" x="481.5" y="441.5"/>
<use href="#p" x="506.5" y="440.5"/>
<use href="#p" x="571.5" y="436.5"/>
<use href="#p" x="522.5" y="440.5"/>
<use href="#p" x="497.5" y="440.5"/>
<use href="#p" x="569.5" y="441.5"/>
<use href="#p" x="589.5" y="437.5"/>
<use href="#p" x="545.5" y="439.5"/>
<use href="#p" x="561.5" y="442.5"/>
<use href="#p" x="532.5" y="436.5"/>
<use href="#p" x="538.5" y="439.5"/>
<use href="#p" x="488.5" y="440.5"/>
<use href="#p" x="576.5" y="439.5"/>
<use href="#p" x="484.5" y="440.5"/>
<use href="#p" x="482.5" y="437.5"/>
<use href="#p" x="587.5" y="441.5"/>
<use href="#p" x="568.5" y="438.5"/>
<use href="#p" x="482.5" y="442.5"/>
<use href="#p" x="498.5" y="437.5"/>
<use href="#p" x="559.5" y="441.5"/>
<use href="#p" x="587.5" y="439.5"/>
<use href="#p" x="496.5" y="442.5"/>
<use href="#p" x="512.5" y="442.5"/>
<use href="#p" x="552.5" y="444.5"/>
<use href="#p" x="572.5" y="442.5"/>
<use href="#p" x="556.5" y="441.5"/>
<use href="#p" x="505.5" y="439.5"/>
<use href="#p" x="555.5" y="440.5"/>
<use href="#p" x="550.5" y="440.5"/>
<use href="#p" x="543.5" y="439.5"/>
<use href="#p" x="522.5" y="441.5"/>
<use href="#p" x="541.5" y="439.5"/>
<use href="#p" x="584.5" y="438.5"/>
<use href="#p" x="499.5" y="437.5"/>
<use href="#p" x="500.5" y="440.5"/>
<use href="#p" x="496.5" y="437.5"/>
<use href="#p" x="582.5" y="440.5"/>
<use href="#p" x="555.5" y="440.5"/>
<use href="#p" x="577.5" y="442.5"/>
<use href="#p" x="499.5" y="439.5"/>
<use href="#p" x="550.5" y="442.5"/>
<use href="#p" x="563.5" y="441.5"/>
<use href="#p" x="580.5" y="442.5"/>
<use href="#p" x="556.5" y="443.5"/>
<use href="#p" x="541.5" y="437.5"/>
<use href="#p" x="512.5" y="439.5"/>
<use href="#p" x="585.5" y="442.5"/>
<use href="#p" x="512.5" y="440.5"/>
<use href="#p" x="507.5" y="438.5"/>
<use href="#p" x="486.5" y="437.5"/>
<use href="#p" x="528.5" y="442.5"/>
<use href="#p" x="552.5" y="442.5"/>
<use href="#p" x="541.5" y="441.5"/>
<use href="#p" x="481.5" y="439.5"/>
<use href="#p" x="491.5" y="444.5"/>
<use href="#p" x="572.5" y="439.5"/>
<use href="#p" x="500.5" y="439.5"/>
<use href="#p" x="558.5" y="438.5"/>
<use href="#p" x="574.5" y="439.5"/>
<use href="#p" x="543.5" y="442.5"/>
<use href="#p" x="531.5" y="439.5"/>
<use href="#p" x="577.5" y="439.5"/>
<use href="#p" x="571.5" y="443.5"/>
<use href="#p" x="556.5" y="436.5"/>
<use href="#p" x="500.5" y="437.5"/>
<use href="#p" x="592.5" y="441.5"/>
<use href="#p" x="480.5" y="438.5"/>
<use href="#p" x="596.5" y="442.5"/>
<use href="#p" x="593.5" y="438.5"/>
<use href="#p" x="498.5" y="439.5"/>
<use href="#p" x="499.5" y="442.5"/>
<use href="#p" x="500.5" y="442.5"/>
<use href="#p" x="527.5" y="438.5"/>
<use href="#p" x="527.5" y="439.5"/>
<use href="#p" x="526.5" y="437.5"/>
<use href="#p" x="492.5" y="439.5"/>
<use href="#p" x="500.5" y="442.5"/>
<use href="#p" x="548.5" y="443.5"/>
<use href="#p" x="486.5" y="439.5"/>
<use href="#p" x="496.5" y="438.5"/>
<use href="#p" x="524.5" y="438.5"/>
<use href="#p" x="559.5" y="440.5"/>
<use href="#p" x="586.5" y="437.5"/>
<use href="#p" x="481.5" y="438.5"/>
<use href="#p" x="580.5" y="439.5"/>
<use href="#p" x="519.5" y="440.5"/>
<use href="#p" x="566.5" y="441.5"/>
<use href="#p" x="551.5" y="444.5"/>
<use href="#p" x="555.5" y="444.5"/>
<use href="#p" x="516.5" y="437.5"/>
<use href="#p" x="496.5" y="439.5"/>
<use href="#p" x="512.5" y="437.5"/>
<use href="#p" x="527.5" y="441.5"/>
<use href="#p" x="491.5" y="439.5"/>
<use href="#p" x="589.5" y="442.5"/>
<use href="#p" x="482.5" y="440.5"/>
<use href="#p" x="532.5" y="439.5"/>
<use href="#p" x="494.5" y="439.5"/>
<use href="#p" x="538.5" y="441.5"/>
<use href="#p" x="530.5" y="443.5"/>
<use href="#p" x="510.5" y="441.5"/>
<use href="#p" x="545.5" y="438.5"/>
<use href="#p" x="484.5" y="441.5"/>
<use href="#p" x="557.5" y="439.5"/>
<use href="#p" x="596.5" y="441.5"/>
<use href="#p" x="488.5" y="443.5"/>
<use href="#p" x="587.5" y="438.5"/>
<use href="#p" x="484.5" y="437.5"/>
<use href="#p" x="524.5" y="439.5"/>
<use href="#p" x="568.5" y="439.5"/>
<use href="#p" x="546.5" y="441.5"/>
<use href="#p" x="555.5" y="444.5"/>
<use href="#p" x="509.5" y="438.5"/>
<use href="#p" x="554.5" y="443.5"/>
<use href="#p" x="530.5" y="440.5"/>
<use href="#p" x="506.5" y="439.5"/>
<use href="#p" x="491.5" y="439.5"/>
<use href="#p" x="562.5" y="437.5"/>
<use href="#p" x="553.5" y="439.5"/>
<use href="#p" x="529.5" y="442.5"/>
<use href="#p" x="496.5" y="440.5"/>
<use href="#p" x="512.5" y="439.5"/>
<use href="#p" x="566.5" y="441.5"/>
<use href="#p" x="569.5" y="439.5"/>
<use href="#p" x="508.5" y="441.5"/>
<use href="#p" x="595.5" y="439.5"/>
<use href="#p" x="512.5" y="440.5"/>
<use href="#p" x="519.5" y="444.5"/>
<use href="#p" x="498.5" y="438.5"/>
<use href="#p" x="544.5" y="437.5"/>
<use href="#p" x="492.5" y="440.5"/>
<use href="#p" x="546.5" y="440.5"/>
<use href="#p" x="501.5" y="440.5"/>
<use href="#p" x="588.5" y="438.5"/>
<use href="#p" x="551.5" y="440.5"/>
<use href="#p" x="526.5" y="442.5"/>
<use href="#p" x="520.5" y="438.5"/>
<use href="#p" x="574.5" y="440.5"/>
<use href="#p" x="522.5" y="439.5"/>
<use href="#p" x="593.5" y="442.5"/>
<use href="#p" x="585.5" y="442.5"/>
<use href="#p" x="549.5" y="441.5"/>
<use href="#p" x="558.5" y="442.5"/>
<use href="#p" x="589.5" y="440.5"/>
<use href="#p" x="536.5" y="438.5"/>
<use href="#p" x="570.5" y="438.5"/>
<use href="#p" x="486.5" y="439.5"/>
<use href="#p" x="499.5" y="441.5"/>
<use href="#p" x="561.5" y="441.5"/>
<use href="#p" x="544.5" y="437.5"/>
<use href="#p" x="499.5" y="440.5"/>
<use href="#p" x="499.5" y="436.5"/>
<use href="#p" x="502.5" y="436.5"/>
<use href="#p" x="542.5" y="440.5"/>
<use href="#p" x="594.5" y="441.5"/>
<use href="#p" x="571.5" y="441.5"/>
<use href="#p" x="488.5" y="437.5"/>
<use href="#p" x="521.5" y="442.5"/>
<use href="#p" x="563.5" y="440.5"/>
<use href="#p" x="592.5" y="440.5"/>
<use href="#p" x="586.5" y="439.5"/>
<use href="#p" x="566.5" y="440.5"/>
<use href="#p" x="517.5" y="441.5"/>
<use href="#p" x="529.5" y="440.5"/>
<use href="#p" x="533.5" y="442.5"/>
<use href="#p" x="505.5" y="442.5"/>
<use href="#p" x="591.5" y="438.5"/>
<use href="#p" x="552.5" y="440.5"/>
<use href="#p" x="514.5" y="441.5"/>
<use href="#p" x="544.5" y="443.5"/>
<use href="#p" x="587.5" y="437.5"/>
<use href="#p" x="569.5" y="438.5"/>
<use href="#p" x="497.5" y="440.5"/>
<use href="#p" x="481.5" y="441.5"/>
<use href="#p" x="511.5" y="437.5"/>
<use href="#p" x="494.5" y="442.5"/>
<use href="#p" x="508.5" y="440.5"/>
<use href="#p" x="580.5" y="442.5"/>
<use href="#p" x="534.5" y="441.5"/>
<use href="#p" x="557.5" y="441.5"/>
<use href="#p" x="508.5" y="443.5"/>
<use href="#p" x="526.5" y="441.5"/>
<use href="#p" x="540.5" y="444.5"/>
<use href="#p" x="481.5" y="436.5"/>
<use href="#p" x="492.5" y="441.5"/>
<use href="#p" x="578.5" y="438.5"/>
<use href="#p" x="566.5" y="437.5"/>
<use href="#p" x="483.5" y="436.5"/>
<use href="#p" x="561.5" y="442.5"/>
<use href="#p" x="568.5" y="438.5"/>
<use href="#p" x="577.5" y="439.5"/>
<use href="#p" x="495.5" y="442.5"/>
<use href="#p" x="536.5" y="437.5"/>
<use href="#p" x="549.5" y="440.5"/>
<use href="#p" x="498.5" y="440.5"/>
<use href="#p" x="574.5" y="439.5"/>
<use href="#p" x="570.5" y="442.5"/>
<use href="#p" x="560.5" y="442.5"/>
<use href="#p" x="506.5" y="441.5"/>
<use href="#p" x="532.5" y="438.5"/>
<use href="#p" x="571.5" y="441.5"/>
<use href="#p" x="535.5" y="439.5"/>
<use href="#p" x="516.5" y="439.5"/>
<use href="#p" x="534.5" y="438.5"/>
<use href="#p" x="571.5" y="439.5"/>
<use href="#p" x="522.5" y="440.5"/>
<use href="#p" x="535.5" y="442.5"/>
<use href="#p" x="579.5" y="440.5"/>
<use href="#p" x="592.5" y="438.5"/>
<use href="#p" x="584.5" y="438.5"/>
<use href="#p" x="581.5" y="438.5"/>
<use href="#p" x="558.5" y="439.5"/>
<use href="#p" x="541.5" y="440.5"/>
<use href="#p" x="578.5" y="443.5"/>
<use href="#p" x="523.5" y="436.5"/>
<use href="#p" x="530.5" y="442.5"/>
<use href="#p" x="503.5" y="439.5"/>
<use href="#p" x="492.5" y="439.5"/>
<use href="#p" x="552.5" y="439.5"/>
<use href="#p" x="528.5" y="440.5"/>
<use href="#p" x="481.5" y="443.5"/>
<use href="#p" x="489.5" y="437.5"/>
<use href="#p" x="521.5" y="440.5"/>
<use href="#p" x="539.5" y="443.5"/>
<use href="#p" x="545.5" y="442.5"/>
<use href="#p" x="546.5" y="438.5"/>
<use href="#p" x="565.5" y="440.5"/>
<use href="#p" x="588.5" y="444.5"/>
<use href="#p" x="551.5" y="442.5"/>
<use href="#p" x="516.5" y="439.5"/>
<use href="#p" x="546.5" y="443.5"/>
<use href="#p" x="492.5" y="441.5"/>
<use href="#p" x="605.5" y="440.5"/>
<use href="#p" x="602.5" y="440.5"/>
<use href="#p" x="597.5" y="439.5"/>
<use href="#p" x="597.5" y="442.5"/>
<use href="#p" x="599.5" y="438.5"/>
<use href="#p" x="607.5" y="438.5"/>
<use href="#p" x="602.5" y="439.5"/>
<use href="#p" x="376.5" y="438.5"/>
<use href="#p" x="329.5" y="439.5"/>
<use href="#p" x="331.5" y="440.5"/>
<use href="#p" x="349.5" y="441.5"/>
<use href="#p" x="373.5" y="439.5"/>
<use href="#p" x="374.5" y="441.5"/>
<use href="#p" x="388.5" y="440.5"/>
<use href="#p" x="332.5" y="439.5"/>
<use href="#p" x="373.5" y="437.5"/>
<use href="#p" x="343.5" y="439.5"/>
<use href="#p" x="314.5" y="438.5"/>
<use href="#p" x="370.5" y="440.5"/>
<use href="#p" x="337.5" y="440.5"/>
<use href="#p" x="339.5" y="439.5"/>
<use href="#p" x="319.5" y="441.5"/>
<use href="#p" x="390.5" y="441.5"/>
<use href="#p" x="394.5" y="439.5"/>
<use href="#p" x="303.5" y="439.5"/>
<use href="#p" x="323.5" y="440.5"/>
<use href="#p" x="393.5" y="439.5"/>
<use href="#p" x="337.5" y="441.5"/>
<use href="#p" x="372.5" y="440.5"/>
<use href="#p" x="357.5" y="438.5"/>
<use href="#p" x="317.5" y="439.5"/>
<use href="#p" x="333.5" y="439.5"/>
<use href="#p" x="361.5" y="440.5"/>
<use href="#p" x="354.5" y="441.5"/>
<use href="#p" x="308.5" y="441.5"/>
<use href="#p" x="337.5" y="440.5"/>
<use href="#p" x="318.5" y="441.5"/>
<use href="#p" x="306.5" y="440.5"/>
<use href="#p" x="373.5" y="439.5"/>
<use href="#p" x="370.5" y="440.5"/>
<use href="#p" x="379.5" y="439.5"/>
<use href="#p" x="351.5" y="440.5"/>
<use href="#p" x="310.5" y="439.5"/>
<use href="#p" x="363.5" y="440.5"/>
<use href="#p" x="355.5" y="439.5"/>
<use href="#p" x="357.5" y="441.5"/>
<use href="#p" x="377.5" y="440.5"/>
<use href="#p" x="330.5" y="440.5"/>
<use href="#p" x="341.5" y="440.5"/>
<use href="#p" x="359.5" y="440.5"/>
<use href="#p" x="388.5" y="440.5"/>
<use href="#p" x="354.5" y="438.5"/>
<use href="#p" x="308.5" y="440.5"/>
<use href="#p" x="367.5" y="440.5"/>
<use href="#p" x="339.5" y="439.5"/>
<use href="#p" x="391.5" y="440.5"/>
<use href="#p" x="349.5" y="441.5"/>
<use href="#p" x="349.5" y="439.5"/>
<use href="#p" x="366.5" y="438.5"/>
<use href="#p" x="324.5" y="440.5"/>
<use href="#p" x="325.5" y="438.5"/>
<use href="#p" x="315.5" y="440.5"/>
<use href="#p" x="386.5" y="440.5"/>
<use href="#p" x="396.5" y="438.5"/>
<use href="#p" x="308.5" y="439.5"/>
<use href="#p" x="303.5" y="441.5"/>
<use href="#p" x="393.5" y="440.5"/>
<use href="#p" x="346.5" y="440.5"/>
<use href="#p" x="368.5" y="439.5"/>
<use href="#p" x="363.5" y="440.5"/>
<use href="#p" x="370.5" y="440.5"/>
<use href="#p" x="352.5" y="439.5"/>
<use href="#p" x="381.5" y="438.5"/>
<use href="#p" x="358.5" y="438.5"/>
<use href="#p" x="384.5" y="439.5"/>
<use href="#p" x="364.5" y="441.5"/>
<use href="#p" x="386.5" y="439.5"/>
<use href="#p" x="352.5" y="440.5"/>
<use href="#p" x="341.5" y="439.5"/>
<use href="#p" x="367.5" y="441.5"/>
<use href="#p" x="386.5" y="438.5"/>
<use href="#p" x="364.5" y="438.5"/>
<use href="#p" x="315.5" y="439.5"/>
<use href="#p" x="346.5" y="440.5"/>
<use href="#p" x="381.5" y="441.5"/>
<use href="#p" x="306.5" y="438.5"/>
<use href="#p" x="338.5" y="439.5"/>
<use href="#p" x="314.5" y="437.5"/>
<use href="#p" x="385.5" y="440.5"/>
<use href="#p" x="364.5" y="438.5"/>
<use href="#p" x="398.5" y="439.5"/>
<use href="#p" x="397.5" y="438.5"/>
<use href="#p" x="351.5" y="441.5"/>
<use href="#p" x="376.5" y="439.5"/>
<use href="#p" x="369.5" y="440.5"/>
<use href="#p" x="387.5" y="440.5"/>
<use href="#p" x="305.5" y="438.5"/>
<use href="#p" x="385.5" y="440.5"/>
<use href="#p" x="321.5" y="438.5"/>
<use href="#p" x="342.5" y="441.5"/>
<use href="#p" x="373.5" y="441.5"/>
<use href="#p" x="348.5" y="441.5"/>
<use href="#p" x="394.5" y="439.5"/>
<use href="#p" x="330.5" y="440.5"/>
<use href="#p" x="320.5" y="439.5"/>
<use href="#p" x="331.5" y="439.5"/>
<use href="#p" x="349.5" y="440.5"/>
<use href="#p" x="315.5" y="439.5"/>
<use href="#p" x="391.5" y="439.5"/>
<use href="#p" x="307.5" y="438.5"/>
<use href="#p" x="331.5" y="440.5"/>
<use href="#p" x="332.5" y="440.5"/>
<use href="#p" x="338.5" y="439.5"/>
<use href="#p" x="326.5" y="440.5"/>
<use href="#p" x="317.5" y="440.5"/>
<use href="#p" x="371.5" y="439.5"/>
<use href="#p" x="342.5" y="439.5"/>
<use href="#p" x="338.5" y="438.5"/>
<use href="#p" x="383.5" y="440.5"/>
<use href="#p" x="381.5" y="438.5"/>
<use href="#p" x="397.5" y="440.5"/>
<use href="#p" x="393.5" y="437.5"/>
<use href="#p" x="314.5" y="439.5"/>
<use href="#p" x="348.5" y="438.5"/>
<use href="#p" x="356.5" y="440.5"/>
<use href="#p" x="392.5" y="439.5"/>
<use href="#p" x="382.5" y="440.5"/>
<use href="#p" x="351.5" y="439.5"/>
<use href="#p" x="300.5" y="438.5"/>
<use href="#p" x="351.5" y="440.5"/>
<use href="#p" x="333.5" y="441.5"/>
<use href="#p" x="360.5" y="441.5"/>
<use href="#p" x="312.5" y="441.5"/>
<use href="#p" x="355.5" y="440.5"/>
<use href="#p" x="376.5" y="439.5"/>
<use href="#p" x="369.5" y="439.5"/>
<use href="#p" x="332.5" y="439.5"/>
<use href="#p" x="379.5" y="438.5"/>
<use href="#p" x="327.5" y="438.5"/>
<use href="#p" x="345.5" y="440.5"/>
<use href="#p" x="333.5" y="440.5"/>
<use href="#p" x="341.5" y="440.5"/>
<use href="#p" x="322.5" y="439.5"/>
<use href="#p" x="363.5" y="439.5"/>
<use href="#p" x="320.5" y="438.5"/>
<use href="#p" x="393.5" y="439.5"/>
<use href="#p" x="374.5" y="440.5"/>
<use href="#p" x="354.5" y="439.5"/>
<use href="#p" x="303.5" y="438.5"/>
<use href="#p" x="306.5" y="440.5"/>
<use href="#p" x="342.5" y="438.5"/>
<use href="#p" x="398.5" y="440.5"/>
<use href="#p" x="308.5" y="439.5"/>
<use href="#p" x="333.5" y="439.5"/>
<use href="#p" x="343.5" y="441.5"/>
<use href="#p" x="316.5" y="438.5"/>
<use href="#p" x="329.5" y="438.5"/>
<use href="#p" x="359.5" y="438.5"/>
<use href="#p" x="326.5" y="439.5"/>
<use href="#p" x="345.5" y="438.5"/>
<use href="#p" x="390.5" y="439.5"/>
<use href="#p" x="368.5" y="442.5"/>
<use href="#p" x="367.5" y="439.5"/>
<use href="#p" x="368.5" y="440.5"/>
<use href="#p" x="355.5" y="440.5"/>
<use href="#p" x="369.5" y="440.5"/>
<use href="#p" x="302.5" y="439.5"/>
<use href="#p" x="368.5" y="440.5"/>
<use href="#p" x="329.5" y="439.5"/>
<use href="#p" x="381.5" y="439.5"/>
<use href="#p" x="303.5" y="441.5"/>
<use href="#p" x="300.5" y="439.5"/>
<use href="#p" x="307.5" y="440.5"/>
<use href="#p" x="334.5" y="441.5"/>
<use href="#p" x="316.5" y="440.5"/>
<use href="#p" x="323.5" y="440.5"/>
<use href="#p" x="386.5" y="438.5"/>
<use href="#p" x="380.5" y="441.5"/>
<use href="#p" x="377.5" y="440.5"/>
<use href="#p" x="356.5" y="440.5"/>
<use href="#p" x="352.5" y="438.5"/>
<use href="#p" x="385.5" y="439.5"/>
<use href="#p" x="356.5" y="439.5"/>
<use href="#p" x="388.5" y="438.5"/>
<use href="#p" x="309.5" y="438.5"/>
<use href="#p" x="322.5" y="439.5"/>
<use href="#p" x="320.5" y="441.5"/>
<use href="#p" x="308.5" y="439.5"/>
<use href="#p" x="318.5" y="438.5"/>
<use href="#p" x="396.5" y="441.5"/>
<use href="#p" x="389.5" y="440.5"/>
<use href="#p" x="373.5" y="439.5"/>
<use href="#p" x="364.5" y="440.5"/>
<use href="#p" x="315.5" y="441.5"/>
<use href="#p" x="338.5" y="439.5"/>
<use href="#p" x="345.5" y="440.5"/>
<use href="#p" x="371.5" y="439.5"/>
<use href="#p" x="314.5" y="439.5"/>
<use href="#p" x="366.5" y="440.5"/>
<use href="#p" x="362.5" y="439.5"/>
<use href="#p" x="380.5" y="441.5"/>
<use href="#p" x="305.5" y="439.5"/>
<use href="#p" x="375.5" y="440.5"/>
<use href="#p" x="384.5" y="440.5"/>
<use href="#p" x="388.5" y="439.5"/>
<use href="#p" x="393.5" y="439.5"/>
<use href="#p" x="376.5" y="439.5"/>
<use href="#p" x="390.5" y="441.5"/>
<use href="#p" x="397.5" y="441.5"/>
<use href="#p" x="385.5" y="438.5"/>
<use href="#p" x="385.5" y="440.5"/>
<use href="#p" x="381.5" y="439.5"/>
<use href="#p" x="375.5" y="441.5"/>
<use href="#p" x="382.5" y="441.5"/>
<use href="#p" x="383.5" y="440.5"/>
<use href="#p" x="396.5" y="439.5"/>
<use href="#p" x="383.5" y="441.5"/>
<use href="#p" x="387.5" y="437.5"/>
<use href="#p" x="396.5" y="439.5"/>
<use href="#p" x="393.5" y="440.5"/>
<use href="#p" x="392.5" y="441.5"/>
<use href="#p" x="397.5" y="439.5"/>
<use href="#p" x="376.5" y="440.5"/>
<use href="#p" x="391.5" y="439.5"/>
<use href="#p" x="397.5" y="440.5"/>
<use href="#p" x="393.5" y="438.5"/>
<use href="#p" x="385.5" y="439.5"/>
<use href="#p" x="378.5" y="439.5"/>
<use href="#p" x="394.5" y="438.5"/>
<use href="#p" x="376.5" y="439.5"/>
<use href="#p" x="379.5" y="439.5"/>
<use href="#p" x="378.5" y="438.5"/>
<use href="#p" x="391.5" y="439.5"/>
<use href="#p" x="380.5" y="439.5"/>
<use href="#p" x="390.5" y="441.5"/>
<use href="#p" x="380.5" y="439.5"/>
<use href="#p" x="390.5" y="439.5"/>
<use href="#p" x="385.5" y="438.5"/>
<use href="#p" x="394.5" y="439.5"/>
<use href="#p" x="397.5" y="442.5"/>
<use href="#p" x="398.5" y="439.5"/>
</g>
<g stroke="#0000ff" stroke-width="0.9" fill="none">
<use href="#x" x="391.5" y="315.5"/>
<use href="#x" x="353.5" y="361.5"/>
<use href="#x" x="375.5" y="358.5"/>
<use href="#x" x="390.5" y="357.5"/>
<use href="#x" x="392.5" y="371.5"/>
<use href="#x" x="384.5" y="382.5"/>
<use href="#x" x="332.5" y="398.5"/>
<use href="#x" x="320.5" y="357.5"/>
<use href="#x" x="329.5" y="356.5"/>
<use href="#x" x="376.5" y="448.5"/>
<use href="#x" x="398.5" y="448.5"/>
<use href="#x" x="316.5" y="425.5"/>
<use href="#x" x="386.5" y="419.5"/>
<use href="#x" x="386.5" y="423.5"/>
<use href="#x" x="376.5" y="438.5"/>
<use href="#x" x="329.5" y="439.5"/>
<use href="#x" x="331.5" y="440.5"/>
<use href="#x" x="349.5" y="441.5"/>
<use href="#x" x="373.5" y="439.5"/>
<use href="#x" x="374.5" y="441.5"/>
<use href="#x" x="388.5" y="440.5"/>
<use href="#x" x="332.5" y="439.5"/>
<use href="#x" x="373.5" y="437.5"/>
<use href="#x" x="343.5" y="439.5"/>
<use href="#x" x="314.5" y="438.5"/>
<use href="#x" x="370.5" y="440.5"/>
<use href="#x" x="337.5" y="440.5"/>
<use href="#x" x="339.5" y="439.5"/>
<use href="#x" x="319.5" y="441.5"/>
<use href="#x" x="390.5" y="441.5"/>
<use href="#x" x="394.5" y="439.5"/>
<use href="#x" x="303.5" y="439.5"/>
<use href="#x" x="323.5" y="440.5"/>
<use href="#x" x="393.5" y="439.5"/>
<use href="#x" x="337.5" y="441.5"/>
<use href="#x" x="372.5" y="440.5"/>
<use href="#x" x="357.5" y="438.5"/>
<use href="#x" x="317.5" y="439.5"/>
<use href="#x" x="333.5" y="439.5"/>
<use href="#x" x="361.5" y="440.5"/>
<use href="#x" x="354.5" y="441.5"/>
<use href="#x" x="308.5" y="441.5"/>
<use href="#x" x="337.5" y="440.5"/>
<use href="#x" x="318.5" y="441.5"/>
<use href="#x" x="306.5" y="440.5"/>
<use href="#x" x="373.5" y="439.5"/>
<use href="#x" x="370.5" y="440.5"/>
<use href="#x" x="379.5" y="439.5"/>
<use href="#x" x="351.5" y="440.5"/>
<use href="#x" x="310.5" y="439.5"/>
<use href="#x" x="363.5" y="440.5"/>
<use href="#x" x="355.5" y="439.5"/>
<use href="#x" x="357.5" y="441.5"/>
<use href="#x" x="377.5" y="440.5"/>
<use href="#x" x="330.5" y="440.5"/>
<use href="#x" x="341.5" y="440.5"/>
<use href="#x" x="359.5" y="440.5"/>
<use href="#x" x="388.5" y="440.5"/>
<use href="#x" x="354.5" y="438.5"/>
<use href="#x" x="308.5" y="440.5"/>
<use href="#x" x="367.5" y="440.5"/>
<use href="#x" x="339.5" y="439.5"/>
<use href="#x" x="391.5" y="440.5"/>
<use href="#x" x="349.5" y="441.5"/>
<use href="#x" x="349.5" y="439.5"/>
<use href="#x" x="366.5" y="438.5"/>
<use href="#x" x="324.5" y="440.5"/>
<use href="#x" x="325.5" y="438.5"/>
<use href="#x" x="315.5" y="440.5"/>
<use href="#x" x="386.5" y="440.5"/>
<use href="#x" x="396.5" y="438.5"/>
<use href="#x" x="308.5" y="439.5"/>
<use href="#x" x="303.5" y="441.5"/>
<use href="#x" x="393.5" y="440.5"/>
<use href="#x" x="346.5" y="440.5"/>
<use href="#x" x="368.5" y="439.5"/>
<use href="#x" x="363.5" y="440.5"/>
<use href="#x" x="370.5" y="440.5"/>
<use href="#x" x="352.5" y="439.5"/>
<use href="#x" x="381.5" y="438.5"/>
<use href="#x" x="358.5" y="438.5"/>
<use href="#x" x="384.5" y="439.5"/>
<use href="#x" x="364.5" y="441.5"/>
<use href="#x" x="386.5" y="439.5"/>
<use href="#x" x="352.5" y="440.5"/>
<use href="#x" x="341.5" y="439.5"/>
<use href="#x" x="367.5" y="441.5"/>
<use href="#x" x="386.5" y="438.5"/>
<use href="#x" x="364.5" y="438.5"/>
<use href="#x" x="315.5" y="439.5"/>
<use href="#x" x="346.5" y="440.5"/>
<use href="#x" x="381.5" y="441.5"/>
<use href="#x" x="306.5" y="438.5"/>
<use href="#x" x="338.5" y="439.5"/>
<use href="#x" x="314.5" y="437.5"/>
<use href="#x" x="385.5" y="440.5"/>
<use href="#x" x="364.5" y="438.5"/>
<use href="#x" x="398.5" y="439.5"/>
<use href="#x" x="397.5" y="438.5"/>
<use href="#x" x="351.5" y="441.5"/>
<use href="#x" x="376.5" y="439.5"/>
<use href="#x" x="369.5" y="440.5"/>
<use href="#x" x="387.5" y="440.5"/>
<use href="#x" x="305.5" y="438.5"/>
<use href="#x" x="385.5" y="440.5"/>
<use href="#x" x="321.5" y="438.5"/>
<use href="#x" x="342.5" y="441.5"/>
<use href="#x" x="373.5" y="441.5"/>
<use href="#x" x="348.5" y="441.5"/>
<use href="#x" x="394.5" y="439.5"/>
<use href="#x" x="330.5" y="440.5"/>
<use href="#x" x="320.5" y="439.5"/>
<use href="#x" x="331.5" y="439.5"/>
<use href="#x" x="349.5" y="440.5"/>
<use href="#x" x="315.5" y="439.5"/>
<use href="#x" x="391.5" y="439.5"/>
<use href="#x" x="307.5" y="438.5"/>
<use href="#x" x="331.5" y="440.5"/>
<use href="#x" x="332.5" y="440.5"/>
<use href="#x" x="338.5" y="439.5"/>
<use href="#x" x="326.5" y="440.5"/>
<use href="#x" x="317.5" y="440.5"/>
<use href="#x" x="371.5" y="439.5"/>
<use href="#x" x="342.5" y="439.5"/>
<use href="#x" x="338.5" y="438.5"/>
<use href="#x" x="383.5" y="440.5"/>
<use href="#x" x="381.5" y="438.5"/>
<use href="#x" x="397.5" y="440.5"/>
<use href="#x" x="393.5" y="437.5"/>
<use href="#x" x="314.5" y="439.5"/>
<use href="#x" x="348.5" y="438.5"/>
<use href="#x" x="356.5" y="440.5"/>
<use href="#x" x="392.5" y="439.5"/>
<use href="#x" x="382.5" y="440.5"/>
<use href="#x" x="351.5" y="439.5"/>
<use href="#x" x="300.5" y="438.5"/>
<use href="#x" x="351.5" y="440.5"/>
<use href="#x" x="333.5" y="441.5"/>
<use href="#x" x="360.5" y="441.5"/>
<use href="#x" x="312.5" y="441.5"/>
<use href="#x" x="355.5" y="440.5"/>
<use href="#x" x="376.5" y="439.5"/>
<use href="#x" x="369.5" y="439.5"/>
<use href="#x" x="332.5" y="439.5"/>
<use href="#x" x="379.5" y="438.5"/>
<use href="#x" x="327.5" y="438.5"/>
<use href="#x" x="345.5" y="440.5"/>
<use href="#x" x="333.5" y="440.5"/>
<use href="#x" x="341.5" y="440.5"/>
<use href="#x" x="322.5" y="439.5"/>
<use href="#x" x="363.5" y="439.5"/>
<use href="#x" x="320.5" y="438.5"/>
<use href="#x" x="393.5" y="439.5"/>
<use href="#x" x="374.5" y="440.5"/>
<use href="#x" x="354.5" y="439.5"/>
<use href="#x" x="303.5" y="438.5"/>
<use href="#x" x="306.5" y="440.5"/>
<use href="#x" x="342.5" y="438.5"/>
<use href="#x" x="398.5" y="440.5"/>
<use href="#x" x="308.5" y="439.5"/>
<use href="#x" x="333.5" y="439.5"/>
<use href="#x" x="343.5" y="441.5"/>
<use href="#x" x="316.5" y="438.5"/>
<use href="#x" x="329.5" y="438.5"/>
<use href="#x" x="359.5" y="438.5"/>
<use href="#x" x="326.5" y="439.5"/>
<use href="#x" x="345.5" y="438.5"/>
<use href="#x" x="390.5" y="439.5"/>
<use href="#x" x="368.5" y="442.5"/>
<use href="#x" x="367.5" y="439.5"/>
<use href="#x" x="368.5" y="440.5"/>
<use href="#x" x="355.5" y="440.5"/>
<use href="#x" x="369.5" y="440.5"/>
<use href="#x" x="302.5" y="439.5"/>
<use href="#x" x="368.5" y="440.5"/>
<use href="#x" x="329.5" y="439.5"/>
<use href="#x" x="381.5" y="439.5"/>
<use href="#x" x="303.5" y="441.5"/>
<use href="#x" x="300.5" y="439.5"/>
<use href="#x" x="307.5" y="440.5"/>
<use href="#x" x="334.5" y="441.5"/>
<use href="#x" x="316.5" y="440.5"/>
<use href="#x" x="323.5" y="440.5"/>
<use href="#x" x="386.5" y="438.5"/>
<use href="#x" x="380.5" y="441.5"/>
<use href="#x" x="377.5" y="440.5"/>
<use href="#x" x="356.5" y="440.5"/>
<use href="#x" x="352.5" y="438.5"/>
<use href="#x" x="385.5" y="439.5"/>
<use href="#x" x="356.5" y="439.5"/>
<use href="#x" x="388.5" y="438.5"/>
<use href="#x" x="309.5" y="438.5"/>
<use href="#x" x="322.5" y="439.5"/>
<use href="#x" x="320.5" y="441.5"/>
<use href="#x" x="308.5" y="439.5"/>
<use href="#x" x="318.5" y="438.5"/>
<use href="#x" x="396.5" y="441.5"/>
<use href="#x" x="389.5" y="440.5"/>
<use href="#x" x="373.5" y="439.5"/>
<use href="#x" x="364.5" y="440.5"/>
<use href="#x" x="315.5" y="441.5"/>
<use href="#x" x="338.5" y="439.5"/>
<use href="#x" x="345.5" y="440.5"/>
<use href="#x" x="371.5" y="439.5"/>
<use href="#x" x="314.5" y="439.5"/>
<use href="#x" x="366.5" y="440.5"/>
<use href="#x" x="362.5" y="439.5"/>
<use href="#x" x="380.5" y="441.5"/>
<use href="#x" x="305.5" y="439.5"/>
<use href="#x" x="375.5" y="440.5"/>
<use href="#x" x="384.5" y="440.5"/>
<use href="#x" x="388.5" y="439.5"/>
<use href="#x" x="393.5" y="439.5"/>
<use href="#x" x="376.5" y="439.5"/>
<use href="#x" x="390.5" y="441.5"/>
<use href="#x" x="397.5" y="441.5"/>
<use href="#x" x="385.5" y="438.5"/>
<use href="#x" x="385.5" y="440.5"/>
<use href="#x" x="381.5" y="439.5"/>
<use href="#x" x="375.5" y="441.5"/>
<use href="#x" x="382.5" y="441.5"/>
<use href="#x" x="383.5" y="440.5"/>
<use href="#x" x="396.5" y="439.5"/>
<use href="#x" x="383.5" y="441.5"/>
<use href="#x" x="387.5" y="437.5"/>
<use href="#x" x="396.5" y="439.5"/>
<use href="#x" x="393.5" y="440.5"/>
<use href="#x" x="392.5" y="441.5"/>
<use href="#x" x="397.5" y="439.5"/>
<use href="#x" x="376.5" y="440.5"/>
<use href="#x" x="391.5" y="439.5"/>
<use href="#x" x="397.5" y="440.5"/>
<use href="#x" x="393.5" y="438.5"/>
<use href="#x" x="385.5" y="439.5"/>
<use href="#x" x="378.5" y="439.5"/>
<use href="#x" x="394.5" y="438.5"/>
<use href="#x" x="376.5" y="439.5"/>
<use href="#x" x="379.5" y="439.5"/>
<use href="#x" x="378.5" y="438.5"/>
<use href="#x" x="391.5" y="439.5"/>
<use href="#x" x="380.5" y="439.5"/>
<use href="#x" x="390.5" y="441.5"/>
<use href="#x" x="380.5" y="439.5"/>
<use href="#x" x="390.5" y="439.5"/>
<use href="#x" x="385.5" y="438.5"/>
<use href="#x" x="394.5" y="439.5"/>
<use href="#x" x="397.5" y="442.5"/>
<use href="#x" x="398.5" y="439.5"/>
</g>
<g fill="#000">
<circle cx="308.5" cy="440.5" r="4.3"/>
<circle cx="312.5" cy="444.5" r="4.3"/>
<circle cx="315.5" cy="441.5" r="4.3"/>
<circle cx="319.5" cy="440.5" r="4.3"/>
<circle cx="335.5" cy="441.5" r="4.3"/>
<circle cx="339.5" cy="441.5" r="4.3"/>
<circle cx="343.5" cy="441.5" r="4.3"/>
<circle cx="347.5" cy="441.5" r="4.3"/>
<circle cx="351.5" cy="441.5" r="4.3"/>
<circle cx="355.5" cy="441.5" r="4.3"/>
<circle cx="359.5" cy="441.5" r="4.3"/>
<circle cx="363.5" cy="441.5" r="4.3"/>
<circle cx="367.5" cy="441.5" r="4.3"/>
<circle cx="370.5" cy="441.5" r="4.3"/>
<circle cx="373.5" cy="441.5" r="4.3"/>
</g>
<line x1="100" y1="441.5" x2="720" y2="441.5" stroke="#0000ff" stroke-width="1.4" stroke-dasharray="8.33 8.33" stroke-dashoffset="0"/>
</g>
<rect x="100.5" y="60.5" width="620" height="480" fill="none" stroke="#000" stroke-width="1.39"/>
<path d="M183.50 540.5v-6M265.50 540.5v-6M348.50 540.5v-6M431.50 540.5v-6M513.50 540.5v-6M596.50 540.5v-6M679.50 540.5v-6M178.50 60.5v6M261.50 60.5v6M344.50 60.5v6M426.50 60.5v6M509.50 60.5v6M592.50 60.5v6M674.50 60.5v6M100.5 540.50h6M720.5 540.50h-6M100.5 420.50h6M720.5 420.50h-6M100.5 300.50h6M720.5 300.50h-6M100.5 180.50h6M720.5 180.50h-6M100.5 60.50h6M720.5 60.50h-6" stroke="#000" stroke-width="0.7" fill="none"/>
<text transform="translate(100.00,559.80)" font-size="17.67"><tspan x="-17.21" textLength="12.54" lengthAdjust="spacingAndGlyphs">−</tspan><tspan x="-3.58" textLength="9.42" lengthAdjust="spacingAndGlyphs">2</tspan><tspan x="7.07" textLength="9.77" lengthAdjust="spacingAndGlyphs">0</tspan></text>
<text transform="translate(182.67,559.80)" font-size="17.67"><tspan x="-17.19" textLength="12.54" lengthAdjust="spacingAndGlyphs">−</tspan><tspan x="-3.38" textLength="9.33" lengthAdjust="spacingAndGlyphs">1</tspan><tspan x="7.03" textLength="9.88" lengthAdjust="spacingAndGlyphs">8</tspan></text>
<text transform="translate(265.33,559.80)" font-size="17.67"><tspan x="-17.24" textLength="12.54" lengthAdjust="spacingAndGlyphs">−</tspan><tspan x="-3.43" textLength="9.33" lengthAdjust="spacingAndGlyphs">1</tspan><tspan x="6.86" textLength="10.11" lengthAdjust="spacingAndGlyphs">6</tspan></text>
<text transform="translate(348.00,559.80)" font-size="17.67"><tspan x="-17.29" textLength="12.54" lengthAdjust="spacingAndGlyphs">−</tspan><tspan x="-3.48" textLength="9.33" lengthAdjust="spacingAndGlyphs">1</tspan><tspan x="6.98" textLength="9.77" lengthAdjust="spacingAndGlyphs">4</tspan></text>
<text transform="translate(430.67,559.80)" font-size="17.67"><tspan x="-16.93" textLength="12.54" lengthAdjust="spacingAndGlyphs">−</tspan><tspan x="-3.12" textLength="9.33" lengthAdjust="spacingAndGlyphs">1</tspan><tspan x="7.30" textLength="9.42" lengthAdjust="spacingAndGlyphs">2</tspan></text>
<text transform="translate(513.33,559.80)" font-size="17.67"><tspan x="-17.21" textLength="12.54" lengthAdjust="spacingAndGlyphs">−</tspan><tspan x="-3.40" textLength="9.33" lengthAdjust="spacingAndGlyphs">1</tspan><tspan x="7.07" textLength="9.77" lengthAdjust="spacingAndGlyphs">0</tspan></text>
<text transform="translate(596.00,559.80)" font-size="17.67"><tspan x="-11.89" textLength="12.54" lengthAdjust="spacingAndGlyphs">−</tspan><tspan x="1.73" textLength="9.88" lengthAdjust="spacingAndGlyphs">8</tspan></text>
<text transform="translate(678.67,559.80)" font-size="17.67"><tspan x="-11.94" textLength="12.54" lengthAdjust="spacingAndGlyphs">−</tspan><tspan x="1.56" textLength="10.11" lengthAdjust="spacingAndGlyphs">6</tspan></text>
<text transform="translate(178.90,50.20)" font-size="17.67"><tspan x="-10.50" textLength="9.33" lengthAdjust="spacingAndGlyphs">1</tspan><tspan x="-0.04" textLength="9.77" lengthAdjust="spacingAndGlyphs">4</tspan></text>
<text transform="translate(261.56,50.20)" font-size="17.67"><tspan x="-10.44" textLength="9.33" lengthAdjust="spacingAndGlyphs">1</tspan><tspan x="-0.15" textLength="10.11" lengthAdjust="spacingAndGlyphs">6</tspan></text>
<text transform="translate(344.23,50.20)" font-size="17.67"><tspan x="-10.40" textLength="9.33" lengthAdjust="spacingAndGlyphs">1</tspan><tspan x="0.01" textLength="9.88" lengthAdjust="spacingAndGlyphs">8</tspan></text>
<text transform="translate(426.90,50.20)" font-size="17.67"><tspan x="-10.29" textLength="9.42" lengthAdjust="spacingAndGlyphs">2</tspan><tspan x="0.36" textLength="9.77" lengthAdjust="spacingAndGlyphs">0</tspan></text>
<text transform="translate(509.56,50.20)" font-size="17.67"><tspan x="-10.01" textLength="9.42" lengthAdjust="spacingAndGlyphs">2</tspan><tspan x="0.59" textLength="9.42" lengthAdjust="spacingAndGlyphs">2</tspan></text>
<text transform="translate(592.23,50.20)" font-size="17.67"><tspan x="-10.38" textLength="9.42" lengthAdjust="spacingAndGlyphs">2</tspan><tspan x="0.27" textLength="9.77" lengthAdjust="spacingAndGlyphs">4</tspan></text>
<text transform="translate(674.90,50.20)" font-size="17.67"><tspan x="-10.32" textLength="9.42" lengthAdjust="spacingAndGlyphs">2</tspan><tspan x="0.15" textLength="10.11" lengthAdjust="spacingAndGlyphs">6</tspan></text>
<text transform="translate(94.40,544.80)" font-size="17.67"><tspan x="-9.08" textLength="9.77" lengthAdjust="spacingAndGlyphs">0</tspan></text>
<text transform="translate(94.40,424.80)" font-size="17.67"><tspan x="-8.53" textLength="9.22" lengthAdjust="spacingAndGlyphs">5</tspan></text>
<text transform="translate(94.40,304.80)" font-size="17.67"><tspan x="-19.55" textLength="9.33" lengthAdjust="spacingAndGlyphs">1</tspan><tspan x="-9.08" textLength="9.77" lengthAdjust="spacingAndGlyphs">0</tspan></text>
<text transform="translate(94.40,184.80)" font-size="17.67"><tspan x="-19.20" textLength="9.33" lengthAdjust="spacingAndGlyphs">1</tspan><tspan x="-8.53" textLength="9.22" lengthAdjust="spacingAndGlyphs">5</tspan></text>
<text transform="translate(94.40,64.80)" font-size="17.67"><tspan x="-19.73" textLength="9.42" lengthAdjust="spacingAndGlyphs">2</tspan><tspan x="-9.08" textLength="9.77" lengthAdjust="spacingAndGlyphs">0</tspan></text>
<text transform="translate(411.30,28.80)" font-size="20.40"><tspan x="-109.05" textLength="10.52" lengthAdjust="spacingAndGlyphs">F</tspan><tspan x="-97.47" textLength="18.70" lengthAdjust="spacingAndGlyphs">W</tspan><tspan x="-77.84" textLength="14.44" lengthAdjust="spacingAndGlyphs">H</tspan><tspan x="-62.73" textLength="16.69" lengthAdjust="spacingAndGlyphs">M</tspan><tspan x="-45.72"> </tspan><tspan x="-38.81" textLength="10.85" lengthAdjust="spacingAndGlyphs">v</tspan><tspan x="-26.88" textLength="9.63" lengthAdjust="spacingAndGlyphs">s</tspan><tspan x="-16.96"> </tspan><tspan x="-10.27" textLength="19.08" lengthAdjust="spacingAndGlyphs">m</tspan><tspan x="9.44" textLength="10.05" lengthAdjust="spacingAndGlyphs">a</tspan><tspan x="21.51" textLength="12.15" lengthAdjust="spacingAndGlyphs">g</tspan><tspan x="34.47" textLength="12.05" lengthAdjust="spacingAndGlyphs">n</tspan><tspan x="47.34" textLength="4.56" lengthAdjust="spacingAndGlyphs">i</tspan><tspan x="52.54" textLength="7.46" lengthAdjust="spacingAndGlyphs">t</tspan><tspan x="60.59" textLength="12.05" lengthAdjust="spacingAndGlyphs">u</tspan><tspan x="73.22" textLength="12.15" lengthAdjust="spacingAndGlyphs">d</tspan><tspan x="85.97" textLength="12.07" lengthAdjust="spacingAndGlyphs">e</tspan><tspan x="98.70" textLength="9.63" lengthAdjust="spacingAndGlyphs">s</tspan></text>
<text transform="translate(410.80,584.00)" font-size="17.67"><tspan x="-146.35" textLength="15.82" lengthAdjust="spacingAndGlyphs">m</tspan><tspan x="-130.00" textLength="8.34" lengthAdjust="spacingAndGlyphs">a</tspan><tspan x="-119.99" textLength="10.07" lengthAdjust="spacingAndGlyphs">g</tspan><tspan x="-109.25" textLength="9.99" lengthAdjust="spacingAndGlyphs">n</tspan><tspan x="-98.58" textLength="3.79" lengthAdjust="spacingAndGlyphs">i</tspan><tspan x="-94.27" textLength="6.19" lengthAdjust="spacingAndGlyphs">t</tspan><tspan x="-87.59" textLength="9.99" lengthAdjust="spacingAndGlyphs">u</tspan><tspan x="-77.12" textLength="10.07" lengthAdjust="spacingAndGlyphs">d</tspan><tspan x="-66.55" textLength="10.01" lengthAdjust="spacingAndGlyphs">e</tspan><tspan x="-56.45"> </tspan><tspan x="-50.59" textLength="4.69" lengthAdjust="spacingAndGlyphs">(</tspan><tspan x="-44.30" textLength="10.08" lengthAdjust="spacingAndGlyphs">b</tspan><tspan x="-33.89" textLength="9.85" lengthAdjust="spacingAndGlyphs">o</tspan><tspan x="-23.76" textLength="6.19" lengthAdjust="spacingAndGlyphs">t</tspan><tspan x="-17.22" textLength="6.19" lengthAdjust="spacingAndGlyphs">t</tspan><tspan x="-10.62" textLength="9.85" lengthAdjust="spacingAndGlyphs">o</tspan><tspan x="-0.35" textLength="15.82" lengthAdjust="spacingAndGlyphs">m</tspan><tspan x="15.94" textLength="5.01" lengthAdjust="spacingAndGlyphs">:</tspan><tspan x="21.68" textLength="3.79" lengthAdjust="spacingAndGlyphs">i</tspan><tspan x="26.34" textLength="7.99" lengthAdjust="spacingAndGlyphs">s</tspan><tspan x="34.88" textLength="9.99" lengthAdjust="spacingAndGlyphs">n</tspan><tspan x="45.24" textLength="6.19" lengthAdjust="spacingAndGlyphs">t</tspan><tspan x="51.66"> </tspan><tspan x="56.96" textLength="5.62" lengthAdjust="spacingAndGlyphs">/</tspan><tspan x="62.57"> </tspan><tspan x="67.98" textLength="6.19" lengthAdjust="spacingAndGlyphs">t</tspan><tspan x="74.58" textLength="9.85" lengthAdjust="spacingAndGlyphs">o</tspan><tspan x="84.95" textLength="10.08" lengthAdjust="spacingAndGlyphs">p</tspan><tspan x="95.49" textLength="5.01" lengthAdjust="spacingAndGlyphs">:</tspan><tspan x="101.01" textLength="8.36" lengthAdjust="spacingAndGlyphs">c</tspan><tspan x="110.33" textLength="8.34" lengthAdjust="spacingAndGlyphs">a</tspan><tspan x="120.60" textLength="3.79" lengthAdjust="spacingAndGlyphs">l</tspan><tspan x="125.24" textLength="3.79" lengthAdjust="spacingAndGlyphs">i</tspan><tspan x="129.78" textLength="10.08" lengthAdjust="spacingAndGlyphs">b</tspan><tspan x="141.27" textLength="4.69" lengthAdjust="spacingAndGlyphs">)</tspan></text>
<text transform="translate(63.60,299.50) rotate(-90)" font-size="17.67"><tspan x="-47.82" textLength="8.73" lengthAdjust="spacingAndGlyphs">F</tspan><tspan x="-38.21" textLength="15.51" lengthAdjust="spacingAndGlyphs">W</tspan><tspan x="-21.94" textLength="11.97" lengthAdjust="spacingAndGlyphs">H</tspan><tspan x="-9.41" textLength="13.84" lengthAdjust="spacingAndGlyphs">M</tspan><tspan x="4.70"> </tspan><tspan x="10.56" textLength="4.69" lengthAdjust="spacingAndGlyphs">(</tspan><tspan x="16.85" textLength="10.08" lengthAdjust="spacingAndGlyphs">p</tspan><tspan x="27.51" textLength="3.79" lengthAdjust="spacingAndGlyphs">i</tspan><tspan x="31.98" textLength="9.24" lengthAdjust="spacingAndGlyphs">x</tspan><tspan x="42.83" textLength="4.69" lengthAdjust="spacingAndGlyphs">)</tspan></text>
<rect x="398.5" y="70.5" width="312.0" height="122.0" fill="#fff" stroke="#000" stroke-width="1.2"/>
<text transform="translate(463.00,93.00)" font-size="20.40"><tspan x="-0.77" textLength="10.05" lengthAdjust="spacingAndGlyphs">a</tspan><tspan x="11.62" textLength="4.56" lengthAdjust="spacingAndGlyphs">l</tspan><tspan x="17.20" textLength="4.56" lengthAdjust="spacingAndGlyphs">l</tspan><tspan x="22.28"> </tspan><tspan x="29.22" textLength="9.63" lengthAdjust="spacingAndGlyphs">s</tspan><tspan x="39.58" textLength="10.05" lengthAdjust="spacingAndGlyphs">a</tspan><tspan x="51.76" textLength="19.08" lengthAdjust="spacingAndGlyphs">m</tspan><tspan x="71.45" textLength="12.16" lengthAdjust="spacingAndGlyphs">p</tspan><tspan x="84.31" textLength="4.56" lengthAdjust="spacingAndGlyphs">l</tspan><tspan x="89.57" textLength="12.07" lengthAdjust="spacingAndGlyphs">e</tspan></text>
<use href="#p" x="412.5" y="86.5" stroke="#00bfbf" stroke-width="0.7"/>
<use href="#p" x="440.5" y="86.5" stroke="#00bfbf" stroke-width="0.7"/>
<text transform="translate(462.88,121.60)" font-size="20.40"><tspan x="-0.54" textLength="9.63" lengthAdjust="spacingAndGlyphs">s</tspan><tspan x="9.82" textLength="10.05" lengthAdjust="spacingAndGlyphs">a</tspan><tspan x="22.00" textLength="19.08" lengthAdjust="spacingAndGlyphs">m</tspan><tspan x="41.70" textLength="12.16" lengthAdjust="spacingAndGlyphs">p</tspan><tspan x="54.55" textLength="4.56" lengthAdjust="spacingAndGlyphs">l</tspan><tspan x="59.81" textLength="12.07" lengthAdjust="spacingAndGlyphs">e</tspan><tspan x="71.99"> </tspan><tspan x="78.47" textLength="7.33" lengthAdjust="spacingAndGlyphs">f</tspan><tspan x="85.67" textLength="11.88" lengthAdjust="spacingAndGlyphs">o</tspan><tspan x="97.87" textLength="8.58" lengthAdjust="spacingAndGlyphs">r</tspan><tspan x="106.02"> </tspan><tspan x="112.52" textLength="8.58" lengthAdjust="spacingAndGlyphs">r</tspan><tspan x="120.44" textLength="11.88" lengthAdjust="spacingAndGlyphs">o</tspan><tspan x="132.82" textLength="12.05" lengthAdjust="spacingAndGlyphs">u</tspan><tspan x="145.46" textLength="12.15" lengthAdjust="spacingAndGlyphs">g</tspan><tspan x="158.33" textLength="12.14" lengthAdjust="spacingAndGlyphs">h</tspan><tspan x="170.76"> </tspan><tspan x="177.71" textLength="10.52" lengthAdjust="spacingAndGlyphs">F</tspan><tspan x="189.29" textLength="18.70" lengthAdjust="spacingAndGlyphs">W</tspan><tspan x="208.92" textLength="14.44" lengthAdjust="spacingAndGlyphs">H</tspan><tspan x="224.03" textLength="16.69" lengthAdjust="spacingAndGlyphs">M</tspan></text>
<use href="#x" x="412.5" y="115.5" stroke="#0000ff" stroke-width="0.9"/>
<use href="#x" x="440.5" y="115.5" stroke="#0000ff" stroke-width="0.9"/>
<text transform="translate(462.90,150.50)" font-size="20.40"><tspan x="-0.86" textLength="10.08" lengthAdjust="spacingAndGlyphs">c</tspan><tspan x="10.15" textLength="11.88" lengthAdjust="spacingAndGlyphs">o</tspan><tspan x="22.68" textLength="10.05" lengthAdjust="spacingAndGlyphs">a</tspan><tspan x="34.67" textLength="8.58" lengthAdjust="spacingAndGlyphs">r</tspan><tspan x="43.37" textLength="9.63" lengthAdjust="spacingAndGlyphs">s</tspan><tspan x="53.48" textLength="12.07" lengthAdjust="spacingAndGlyphs">e</tspan><tspan x="65.66"> </tspan><tspan x="72.56" textLength="11.86" lengthAdjust="spacingAndGlyphs">P</tspan><tspan x="84.68" textLength="11.95" lengthAdjust="spacingAndGlyphs">S</tspan><tspan x="97.49" textLength="10.52" lengthAdjust="spacingAndGlyphs">F</tspan><tspan x="108.51" textLength="7.22" lengthAdjust="spacingAndGlyphs">-</tspan><tspan x="116.25" textLength="4.56" lengthAdjust="spacingAndGlyphs">l</tspan><tspan x="121.85" textLength="4.56" lengthAdjust="spacingAndGlyphs">i</tspan><tspan x="127.22" textLength="11.24" lengthAdjust="spacingAndGlyphs">k</tspan><tspan x="138.02" textLength="12.07" lengthAdjust="spacingAndGlyphs">e</tspan><tspan x="150.20"> </tspan><tspan x="157.14" textLength="9.63" lengthAdjust="spacingAndGlyphs">s</tspan><tspan x="167.50" textLength="10.05" lengthAdjust="spacingAndGlyphs">a</tspan><tspan x="179.68" textLength="19.08" lengthAdjust="spacingAndGlyphs">m</tspan><tspan x="199.37" textLength="12.16" lengthAdjust="spacingAndGlyphs">p</tspan><tspan x="212.23" textLength="4.56" lengthAdjust="spacingAndGlyphs">l</tspan><tspan x="217.49" textLength="12.07" lengthAdjust="spacingAndGlyphs">e</tspan></text>
<circle cx="412.5" cy="144.5" r="4.3" fill="#000"/>
<circle cx="440.5" cy="144.5" r="4.3" fill="#000"/>
<text transform="translate(462.34,179.20)" font-size="20.40"><tspan x="-0.41" textLength="7.46" lengthAdjust="spacingAndGlyphs">t</tspan><tspan x="7.53" textLength="12.07" lengthAdjust="spacingAndGlyphs">e</tspan><tspan x="20.09" textLength="12.05" lengthAdjust="spacingAndGlyphs">n</tspan><tspan x="32.58" textLength="7.46" lengthAdjust="spacingAndGlyphs">t</tspan><tspan x="40.77" textLength="10.05" lengthAdjust="spacingAndGlyphs">a</tspan><tspan x="52.78" textLength="7.46" lengthAdjust="spacingAndGlyphs">t</tspan><tspan x="61.05" textLength="4.56" lengthAdjust="spacingAndGlyphs">i</tspan><tspan x="66.63" textLength="10.85" lengthAdjust="spacingAndGlyphs">v</tspan><tspan x="78.19" textLength="12.07" lengthAdjust="spacingAndGlyphs">e</tspan><tspan x="90.37"> </tspan><tspan x="97.32" textLength="10.52" lengthAdjust="spacingAndGlyphs">F</tspan><tspan x="108.90" textLength="18.70" lengthAdjust="spacingAndGlyphs">W</tspan><tspan x="128.53" textLength="14.44" lengthAdjust="spacingAndGlyphs">H</tspan><tspan x="143.64" textLength="16.69" lengthAdjust="spacingAndGlyphs">M</tspan></text>
<line x1="412.5" y1="173.5" x2="440.5" y2="173.5" stroke="#0000ff" stroke-width="1.39" stroke-dasharray="8.33 8.33"/>
</svg></body></html>
